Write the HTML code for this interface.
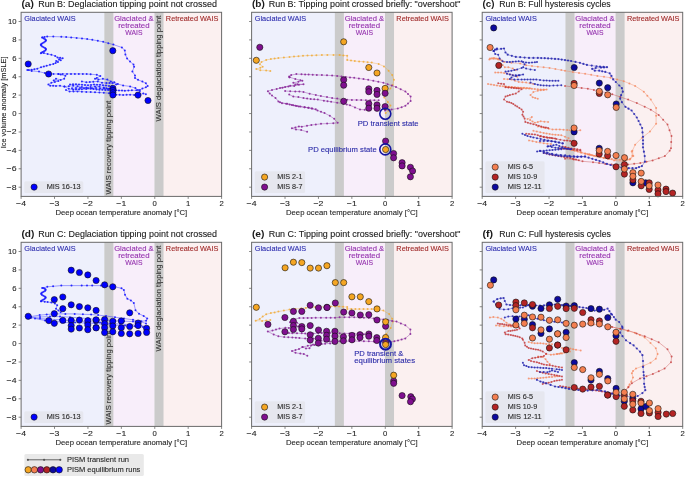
<!DOCTYPE html>
<html><head><meta charset="utf-8"><style>
html,body{margin:0;padding:0;background:#fff;width:685px;height:477px;overflow:hidden}
svg{display:block;will-change:transform}
text{font-family:"Liberation Sans", sans-serif}
</style></head><body>
<svg width="685" height="477" viewBox="0 0 685 477" font-family='"Liberation Sans", sans-serif'>
<rect width="685" height="477" fill="#ffffff"/>
<rect x="21.10" y="12.30" width="83.54" height="184.1" fill="#eef0fc"/>
<rect x="113.00" y="12.30" width="41.77" height="184.1" fill="#f8eefa"/>
<rect x="163.12" y="12.30" width="58.48" height="184.1" fill="#fbf0f0"/>
<rect x="104.34" y="12.30" width="9.05" height="184.1" fill="#cbcbcb"/>
<rect x="154.47" y="12.30" width="9.05" height="184.1" fill="#cbcbcb"/>
<text x="24.30" y="21.00" font-size="7.83" fill="#2c2cae" textLength="51.39" lengthAdjust="spacingAndGlyphs" stroke="#2c2cae" stroke-width="0.15" stroke-opacity="0.7" >Glaciated WAIS</text>
<text x="114.15" y="20.90" font-size="7.83" fill="#9430ae" textLength="39.46" lengthAdjust="spacingAndGlyphs" stroke="#9430ae" stroke-width="0.15" stroke-opacity="0.7" >Glaciated &amp;</text>
<text x="118.17" y="28.10" font-size="7.83" fill="#9430ae" textLength="31.43" lengthAdjust="spacingAndGlyphs" stroke="#9430ae" stroke-width="0.15" stroke-opacity="0.7" >retreated</text>
<text x="125.28" y="35.40" font-size="7.83" fill="#9430ae" textLength="17.20" lengthAdjust="spacingAndGlyphs" stroke="#9430ae" stroke-width="0.15" stroke-opacity="0.7" >WAIS</text>
<text x="165.87" y="21.00" font-size="7.83" fill="#a02828" textLength="52.53" lengthAdjust="spacingAndGlyphs" stroke="#a02828" stroke-width="0.15" stroke-opacity="0.7" >Retreated WAIS</text>
<text transform="translate(110.62,194.50) rotate(-90)" x="0.00" y="0" font-size="7.83" fill="#333333" textLength="93.92" lengthAdjust="spacingAndGlyphs" stroke="#333333" stroke-width="0.15" stroke-opacity="0.7" >WAIS recovery tipping point</text>
<text transform="translate(160.84,121.40) rotate(-90)" x="0.00" y="0" font-size="7.83" fill="#333333" textLength="105.77" lengthAdjust="spacingAndGlyphs" stroke="#333333" stroke-width="0.15" stroke-opacity="0.7" >WAIS deglaciation tipping point</text>
<path d="M42.4,37.6 L43.8,38.4 L45.1,39.2 L45.9,40.0 L45.9,40.8 L45.1,41.6 L43.8,42.4 L42.4,43.2 L41.3,44.0 L40.8,44.8 L41.2,45.6 L42.2,46.4 L43.6,47.2 L45.0,48.0 L45.8,48.8 L45.9,49.6 L45.3,50.4 L44.0,51.2 L42.5,52.0 L41.4,52.8" fill="none" stroke="#1a1aff" stroke-width="0.8" stroke-opacity="0.5" stroke-linejoin="round"/>
<g fill="#1a1aff" fill-opacity="0.9"><circle cx="42.4" cy="37.6" r="1.0"/><circle cx="43.8" cy="38.4" r="1.0"/><circle cx="45.1" cy="39.2" r="1.0"/><circle cx="45.9" cy="40.0" r="1.0"/><circle cx="45.9" cy="40.8" r="1.0"/><circle cx="45.1" cy="41.6" r="1.0"/><circle cx="43.8" cy="42.4" r="1.0"/><circle cx="42.4" cy="43.2" r="1.0"/><circle cx="41.3" cy="44.0" r="1.0"/><circle cx="40.8" cy="44.8" r="1.0"/><circle cx="41.2" cy="45.6" r="1.0"/><circle cx="42.2" cy="46.4" r="1.0"/><circle cx="43.6" cy="47.2" r="1.0"/><circle cx="45.0" cy="48.0" r="1.0"/><circle cx="45.8" cy="48.8" r="1.0"/><circle cx="45.9" cy="49.6" r="1.0"/><circle cx="45.3" cy="50.4" r="1.0"/><circle cx="44.0" cy="51.2" r="1.0"/><circle cx="42.5" cy="52.0" r="1.0"/><circle cx="41.4" cy="52.8" r="1.0"/></g>
<path d="M42.2,37.6 L44.5,36.9 L47.2,36.6 L53.3,36.6 L61.3,36.8 L71.2,37.4 L82.0,38.4 L92.3,39.8 L103.2,41.8 L113.4,44.6 L121.9,47.5 L124.8,50.4 L125.4,54.5 L127.1,58.6 L130.0,61.5 L133.5,64.5 L134.1,66.8 L132.4,71.5 L135.0,75.4 L135.0,78.1 L138.0,79.8 L142.4,81.6 L145.9,83.3 L147.7,85.9 L145.9,87.3 L142.4,88.6 L139.8,89.9" fill="none" stroke="#1a1aff" stroke-width="0.8" stroke-opacity="0.5" stroke-linejoin="round"/>
<g fill="#1a1aff" fill-opacity="0.9"><circle cx="42.2" cy="37.6" r="1.0"/><circle cx="44.5" cy="36.9" r="1.0"/><circle cx="47.2" cy="36.6" r="1.0"/><circle cx="53.3" cy="36.6" r="1.0"/><circle cx="61.3" cy="36.8" r="1.0"/><circle cx="66.2" cy="37.1" r="1.0"/><circle cx="71.2" cy="37.4" r="1.0"/><circle cx="76.6" cy="37.9" r="1.0"/><circle cx="82.0" cy="38.4" r="1.0"/><circle cx="87.2" cy="39.1" r="1.0"/><circle cx="92.3" cy="39.8" r="1.0"/><circle cx="97.8" cy="40.8" r="1.0"/><circle cx="103.2" cy="41.8" r="1.0"/><circle cx="108.3" cy="43.2" r="1.0"/><circle cx="113.4" cy="44.6" r="1.0"/><circle cx="121.9" cy="47.5" r="1.0"/><circle cx="124.8" cy="50.4" r="1.0"/><circle cx="125.4" cy="54.5" r="1.0"/><circle cx="127.1" cy="58.6" r="1.0"/><circle cx="130.0" cy="61.5" r="1.0"/><circle cx="133.5" cy="64.5" r="1.0"/><circle cx="134.1" cy="66.8" r="1.0"/><circle cx="132.4" cy="71.5" r="1.0"/><circle cx="135.0" cy="75.4" r="1.0"/><circle cx="135.0" cy="78.1" r="1.0"/><circle cx="138.0" cy="79.8" r="1.0"/><circle cx="142.4" cy="81.6" r="1.0"/><circle cx="145.9" cy="83.3" r="1.0"/><circle cx="147.7" cy="85.9" r="1.0"/><circle cx="145.9" cy="87.3" r="1.0"/><circle cx="142.4" cy="88.6" r="1.0"/><circle cx="139.8" cy="89.9" r="1.0"/></g>
<path d="M40.9,53.2 L43.9,53.1 L47.6,54.1 L51.4,54.7 L55.2,55.9 L57.5,57.4 L62.7,58.3 L59.0,59.2 L60.8,60.2 L56.1,61.1 L58.0,62.1 L53.3,64.0 L46.7,65.7 L41.0,67.3 L37.3,68.7 L34.4,69.2 L28.8,70.1" fill="none" stroke="#1a1aff" stroke-width="0.8" stroke-opacity="0.5" stroke-linejoin="round"/>
<g fill="#1a1aff" fill-opacity="0.9"><circle cx="40.9" cy="53.2" r="1.0"/><circle cx="43.9" cy="53.1" r="1.0"/><circle cx="47.6" cy="54.1" r="1.0"/><circle cx="51.4" cy="54.7" r="1.0"/><circle cx="55.2" cy="55.9" r="1.0"/><circle cx="57.5" cy="57.4" r="1.0"/><circle cx="60.1" cy="57.8" r="1.0"/><circle cx="62.7" cy="58.3" r="1.0"/><circle cx="59.0" cy="59.2" r="1.0"/><circle cx="60.8" cy="60.2" r="1.0"/><circle cx="56.1" cy="61.1" r="1.0"/><circle cx="58.0" cy="62.1" r="1.0"/><circle cx="55.6" cy="63.0" r="1.0"/><circle cx="53.3" cy="64.0" r="1.0"/><circle cx="50.0" cy="64.8" r="1.0"/><circle cx="46.7" cy="65.7" r="1.0"/><circle cx="43.9" cy="66.5" r="1.0"/><circle cx="41.0" cy="67.3" r="1.0"/><circle cx="37.3" cy="68.7" r="1.0"/><circle cx="34.4" cy="69.2" r="1.0"/><circle cx="31.6" cy="69.7" r="1.0"/><circle cx="28.8" cy="70.1" r="1.0"/></g>
<path d="M27.3,70.1 L31.7,70.9 L39.0,71.6 L44.8,73.1 L48.5,73.8 L58.4,74.0 L67.0,73.9 L74.9,73.9 L82.8,73.9 L90.6,74.2 L96.8,74.8 L100.3,76.1 L96.8,77.9 L95.0,78.8 L98.5,79.6 L102.9,78.8 L107.3,79.6 L110.8,81.4 L114.3,82.3 L117.8,84.0 L123.1,85.5 L130.1,86.4 L135.4,88.1 L138.0,89.9" fill="none" stroke="#1a1aff" stroke-width="0.8" stroke-opacity="0.5" stroke-linejoin="round"/>
<g fill="#1a1aff" fill-opacity="0.9"><circle cx="27.3" cy="70.1" r="1.0"/><circle cx="31.7" cy="70.9" r="1.0"/><circle cx="39.0" cy="71.6" r="1.0"/><circle cx="44.8" cy="73.1" r="1.0"/><circle cx="48.5" cy="73.8" r="1.0"/><circle cx="53.5" cy="73.9" r="1.0"/><circle cx="58.4" cy="74.0" r="1.0"/><circle cx="62.7" cy="74.0" r="1.0"/><circle cx="67.0" cy="73.9" r="1.0"/><circle cx="71.0" cy="73.9" r="1.0"/><circle cx="74.9" cy="73.9" r="1.0"/><circle cx="78.8" cy="73.9" r="1.0"/><circle cx="82.8" cy="73.9" r="1.0"/><circle cx="86.7" cy="74.1" r="1.0"/><circle cx="90.6" cy="74.2" r="1.0"/><circle cx="96.8" cy="74.8" r="1.0"/><circle cx="100.3" cy="76.1" r="1.0"/><circle cx="96.8" cy="77.9" r="1.0"/><circle cx="95.0" cy="78.8" r="1.0"/><circle cx="98.5" cy="79.6" r="1.0"/><circle cx="102.9" cy="78.8" r="1.0"/><circle cx="107.3" cy="79.6" r="1.0"/><circle cx="110.8" cy="81.4" r="1.0"/><circle cx="114.3" cy="82.3" r="1.0"/><circle cx="117.8" cy="84.0" r="1.0"/><circle cx="123.1" cy="85.5" r="1.0"/><circle cx="130.1" cy="86.4" r="1.0"/><circle cx="135.4" cy="88.1" r="1.0"/><circle cx="138.0" cy="89.9" r="1.0"/></g>
<path d="M58.4,74.0 L60.7,74.6 L65.4,75.8 L64.2,78.7 L60.7,79.9 L56.0,78.7 L53.7,80.4 L58.4,81.0 L51.4,82.8 L48.4,84.5 L50.2,85.7 L56.0,85.9 L60.0,85.8 L64.4,86.6 L68.8,86.2 L73.1,85.8 L77.5,86.2 L81.9,87.1 L86.3,87.5 L90.6,87.1 L95.0,86.6 L99.4,86.6 L103.8,87.5 L109.0,88.8 L116.1,90.3 L124.9,90.8 L131.9,90.3 L136.3,90.3 L139.8,91.2" fill="none" stroke="#1a1aff" stroke-width="0.8" stroke-opacity="0.5" stroke-linejoin="round"/>
<g fill="#1a1aff" fill-opacity="0.9"><circle cx="58.4" cy="74.0" r="1.0"/><circle cx="60.7" cy="74.6" r="1.0"/><circle cx="65.4" cy="75.8" r="1.0"/><circle cx="64.2" cy="78.7" r="1.0"/><circle cx="60.7" cy="79.9" r="1.0"/><circle cx="56.0" cy="78.7" r="1.0"/><circle cx="53.7" cy="80.4" r="1.0"/><circle cx="58.4" cy="81.0" r="1.0"/><circle cx="54.9" cy="81.9" r="1.0"/><circle cx="51.4" cy="82.8" r="1.0"/><circle cx="48.4" cy="84.5" r="1.0"/><circle cx="50.2" cy="85.7" r="1.0"/><circle cx="53.1" cy="85.8" r="1.0"/><circle cx="56.0" cy="85.9" r="1.0"/><circle cx="60.0" cy="85.8" r="1.0"/><circle cx="64.4" cy="86.6" r="1.0"/><circle cx="68.8" cy="86.2" r="1.0"/><circle cx="73.1" cy="85.8" r="1.0"/><circle cx="77.5" cy="86.2" r="1.0"/><circle cx="81.9" cy="87.1" r="1.0"/><circle cx="86.3" cy="87.5" r="1.0"/><circle cx="90.6" cy="87.1" r="1.0"/><circle cx="95.0" cy="86.6" r="1.0"/><circle cx="99.4" cy="86.6" r="1.0"/><circle cx="103.8" cy="87.5" r="1.0"/><circle cx="106.4" cy="88.2" r="1.0"/><circle cx="109.0" cy="88.8" r="1.0"/><circle cx="112.5" cy="89.5" r="1.0"/><circle cx="116.1" cy="90.3" r="1.0"/><circle cx="119.0" cy="90.5" r="1.0"/><circle cx="122.0" cy="90.6" r="1.0"/><circle cx="124.9" cy="90.8" r="1.0"/><circle cx="128.4" cy="90.5" r="1.0"/><circle cx="131.9" cy="90.3" r="1.0"/><circle cx="136.3" cy="90.3" r="1.0"/><circle cx="139.8" cy="91.2" r="1.0"/></g>
<path d="M64.4,86.6 L68.8,88.8 L73.1,89.7 L81.9,89.3 L90.6,88.8 L99.4,89.7 L108.2,90.1 L113.0,90.5" fill="none" stroke="#1a1aff" stroke-width="0.8" stroke-opacity="0.5" stroke-linejoin="round"/>
<g fill="#1a1aff" fill-opacity="0.9"><circle cx="64.4" cy="86.6" r="1.0"/><circle cx="68.8" cy="88.8" r="1.0"/><circle cx="73.1" cy="89.7" r="1.0"/><circle cx="76.0" cy="89.6" r="1.0"/><circle cx="79.0" cy="89.4" r="1.0"/><circle cx="81.9" cy="89.3" r="1.0"/><circle cx="86.2" cy="89.0" r="1.0"/><circle cx="90.6" cy="88.8" r="1.0"/><circle cx="93.5" cy="89.1" r="1.0"/><circle cx="96.5" cy="89.4" r="1.0"/><circle cx="99.4" cy="89.7" r="1.0"/><circle cx="102.3" cy="89.8" r="1.0"/><circle cx="105.3" cy="90.0" r="1.0"/><circle cx="108.2" cy="90.1" r="1.0"/><circle cx="113.0" cy="90.5" r="1.0"/></g>
<path d="M66.0,90.0 L69.6,91.5 L77.5,91.5 L86.3,91.9 L95.0,92.3 L103.8,92.8 L109.0,93.2 L116.1,94.7 L123.1,95.0 L130.1,94.7 L138.0,95.1 L143.3,93.4 L145.9,94.3" fill="none" stroke="#1a1aff" stroke-width="0.8" stroke-opacity="0.5" stroke-linejoin="round"/>
<g fill="#1a1aff" fill-opacity="0.9"><circle cx="66.0" cy="90.0" r="1.0"/><circle cx="69.6" cy="91.5" r="1.0"/><circle cx="73.5" cy="91.5" r="1.0"/><circle cx="77.5" cy="91.5" r="1.0"/><circle cx="81.9" cy="91.7" r="1.0"/><circle cx="86.3" cy="91.9" r="1.0"/><circle cx="90.7" cy="92.1" r="1.0"/><circle cx="95.0" cy="92.3" r="1.0"/><circle cx="99.4" cy="92.5" r="1.0"/><circle cx="103.8" cy="92.8" r="1.0"/><circle cx="109.0" cy="93.2" r="1.0"/><circle cx="112.5" cy="94.0" r="1.0"/><circle cx="116.1" cy="94.7" r="1.0"/><circle cx="119.6" cy="94.8" r="1.0"/><circle cx="123.1" cy="95.0" r="1.0"/><circle cx="126.6" cy="94.8" r="1.0"/><circle cx="130.1" cy="94.7" r="1.0"/><circle cx="134.1" cy="94.9" r="1.0"/><circle cx="138.0" cy="95.1" r="1.0"/><circle cx="143.3" cy="93.4" r="1.0"/><circle cx="145.9" cy="94.3" r="1.0"/></g>
<path d="M81.9,81.4 L86.3,82.3 L93.3,81.8 L97.7,81.4 L102.0,82.7 L106.4,83.1 L112.5,83.1 L116.1,84.6" fill="none" stroke="#1a1aff" stroke-width="0.8" stroke-opacity="0.5" stroke-linejoin="round"/>
<g fill="#1a1aff" fill-opacity="0.9"><circle cx="81.9" cy="81.4" r="1.0"/><circle cx="86.3" cy="82.3" r="1.0"/><circle cx="89.8" cy="82.0" r="1.0"/><circle cx="93.3" cy="81.8" r="1.0"/><circle cx="97.7" cy="81.4" r="1.0"/><circle cx="102.0" cy="82.7" r="1.0"/><circle cx="106.4" cy="83.1" r="1.0"/><circle cx="109.5" cy="83.1" r="1.0"/><circle cx="112.5" cy="83.1" r="1.0"/><circle cx="116.1" cy="84.6" r="1.0"/></g>
<path d="M70.0,84.5 L76.0,84.2 L82.0,84.8 L88.0,85.2 L94.0,84.6 L100.0,84.8 L106.0,85.6 L112.0,86.3" fill="none" stroke="#1a1aff" stroke-width="0.8" stroke-opacity="0.5" stroke-linejoin="round"/>
<g fill="#1a1aff" fill-opacity="0.9"><circle cx="70.0" cy="84.5" r="1.0"/><circle cx="73.0" cy="84.3" r="1.0"/><circle cx="76.0" cy="84.2" r="1.0"/><circle cx="79.0" cy="84.5" r="1.0"/><circle cx="82.0" cy="84.8" r="1.0"/><circle cx="85.0" cy="85.0" r="1.0"/><circle cx="88.0" cy="85.2" r="1.0"/><circle cx="91.0" cy="84.9" r="1.0"/><circle cx="94.0" cy="84.6" r="1.0"/><circle cx="97.0" cy="84.7" r="1.0"/><circle cx="100.0" cy="84.8" r="1.0"/><circle cx="103.0" cy="85.2" r="1.0"/><circle cx="106.0" cy="85.6" r="1.0"/><circle cx="109.0" cy="85.9" r="1.0"/><circle cx="112.0" cy="86.3" r="1.0"/></g>
<path d="M72.0,88.2 L80.0,88.0 L88.0,88.3 L96.0,88.0 L104.0,88.6 L112.0,89.2" fill="none" stroke="#1a1aff" stroke-width="0.8" stroke-opacity="0.5" stroke-linejoin="round"/>
<g fill="#1a1aff" fill-opacity="0.9"><circle cx="72.0" cy="88.2" r="1.0"/><circle cx="76.0" cy="88.1" r="1.0"/><circle cx="80.0" cy="88.0" r="1.0"/><circle cx="84.0" cy="88.2" r="1.0"/><circle cx="88.0" cy="88.3" r="1.0"/><circle cx="92.0" cy="88.2" r="1.0"/><circle cx="96.0" cy="88.0" r="1.0"/><circle cx="100.0" cy="88.3" r="1.0"/><circle cx="104.0" cy="88.6" r="1.0"/><circle cx="108.0" cy="88.9" r="1.0"/><circle cx="112.0" cy="89.2" r="1.0"/></g>
<g fill="#0000ff" stroke="#111" stroke-width="0.6"><circle cx="28.2" cy="64.0" r="3.1"/><circle cx="48.6" cy="74.0" r="3.1"/><circle cx="112.8" cy="50.7" r="3.1"/><circle cx="112.9" cy="88.3" r="3.1"/><circle cx="112.9" cy="90.4" r="3.1"/><circle cx="112.9" cy="92.7" r="3.1"/><circle cx="112.9" cy="95.0" r="3.1"/><circle cx="138.0" cy="95.1" r="3.1"/><circle cx="148.0" cy="100.5" r="3.1"/></g>
<rect x="21.10" y="12.30" width="200.5" height="184.1" fill="none" stroke="#6a6a6a" stroke-width="1"/>
<line x1="21.10" y1="196.40" x2="21.10" y2="198.90" stroke="#6a6a6a" stroke-width="0.8"/>
<text x="16.12" y="205.90" font-size="7.83" fill="#262626" textLength="9.95" lengthAdjust="spacingAndGlyphs" stroke="#262626" stroke-width="0.15" stroke-opacity="0.7" >−4</text>
<line x1="54.52" y1="196.40" x2="54.52" y2="198.90" stroke="#6a6a6a" stroke-width="0.8"/>
<text x="49.54" y="205.90" font-size="7.83" fill="#262626" textLength="9.95" lengthAdjust="spacingAndGlyphs" stroke="#262626" stroke-width="0.15" stroke-opacity="0.7" >−3</text>
<line x1="87.93" y1="196.40" x2="87.93" y2="198.90" stroke="#6a6a6a" stroke-width="0.8"/>
<text x="82.96" y="205.90" font-size="7.83" fill="#262626" textLength="9.95" lengthAdjust="spacingAndGlyphs" stroke="#262626" stroke-width="0.15" stroke-opacity="0.7" >−2</text>
<line x1="121.35" y1="196.40" x2="121.35" y2="198.90" stroke="#6a6a6a" stroke-width="0.8"/>
<text x="116.37" y="205.90" font-size="7.83" fill="#262626" textLength="9.95" lengthAdjust="spacingAndGlyphs" stroke="#262626" stroke-width="0.15" stroke-opacity="0.7" >−1</text>
<line x1="154.77" y1="196.40" x2="154.77" y2="198.90" stroke="#6a6a6a" stroke-width="0.8"/>
<text x="152.62" y="205.90" font-size="7.83" fill="#262626" textLength="4.29" lengthAdjust="spacingAndGlyphs" stroke="#262626" stroke-width="0.15" stroke-opacity="0.7" >0</text>
<line x1="188.18" y1="196.40" x2="188.18" y2="198.90" stroke="#6a6a6a" stroke-width="0.8"/>
<text x="186.04" y="205.90" font-size="7.83" fill="#262626" textLength="4.29" lengthAdjust="spacingAndGlyphs" stroke="#262626" stroke-width="0.15" stroke-opacity="0.7" >1</text>
<line x1="221.60" y1="196.40" x2="221.60" y2="198.90" stroke="#6a6a6a" stroke-width="0.8"/>
<text x="219.45" y="205.90" font-size="7.83" fill="#262626" textLength="4.29" lengthAdjust="spacingAndGlyphs" stroke="#262626" stroke-width="0.15" stroke-opacity="0.7" >2</text>
<line x1="18.60" y1="187.19" x2="21.10" y2="187.19" stroke="#6a6a6a" stroke-width="0.8"/>
<text x="6.55" y="189.59" font-size="7.83" fill="#262626" textLength="9.95" lengthAdjust="spacingAndGlyphs" stroke="#262626" stroke-width="0.15" stroke-opacity="0.7" >−8</text>
<line x1="18.60" y1="168.78" x2="21.10" y2="168.78" stroke="#6a6a6a" stroke-width="0.8"/>
<text x="6.55" y="171.19" font-size="7.83" fill="#262626" textLength="9.95" lengthAdjust="spacingAndGlyphs" stroke="#262626" stroke-width="0.15" stroke-opacity="0.7" >−6</text>
<line x1="18.60" y1="150.38" x2="21.10" y2="150.38" stroke="#6a6a6a" stroke-width="0.8"/>
<text x="6.55" y="152.78" font-size="7.83" fill="#262626" textLength="9.95" lengthAdjust="spacingAndGlyphs" stroke="#262626" stroke-width="0.15" stroke-opacity="0.7" >−4</text>
<line x1="18.60" y1="131.97" x2="21.10" y2="131.97" stroke="#6a6a6a" stroke-width="0.8"/>
<text x="6.55" y="134.37" font-size="7.83" fill="#262626" textLength="9.95" lengthAdjust="spacingAndGlyphs" stroke="#262626" stroke-width="0.15" stroke-opacity="0.7" >−2</text>
<line x1="18.60" y1="113.56" x2="21.10" y2="113.56" stroke="#6a6a6a" stroke-width="0.8"/>
<text x="12.21" y="115.96" font-size="7.83" fill="#262626" textLength="4.29" lengthAdjust="spacingAndGlyphs" stroke="#262626" stroke-width="0.15" stroke-opacity="0.7" >0</text>
<line x1="18.60" y1="95.14" x2="21.10" y2="95.14" stroke="#6a6a6a" stroke-width="0.8"/>
<text x="12.21" y="97.55" font-size="7.83" fill="#262626" textLength="4.29" lengthAdjust="spacingAndGlyphs" stroke="#262626" stroke-width="0.15" stroke-opacity="0.7" >2</text>
<line x1="18.60" y1="76.73" x2="21.10" y2="76.73" stroke="#6a6a6a" stroke-width="0.8"/>
<text x="12.21" y="79.13" font-size="7.83" fill="#262626" textLength="4.29" lengthAdjust="spacingAndGlyphs" stroke="#262626" stroke-width="0.15" stroke-opacity="0.7" >4</text>
<line x1="18.60" y1="58.33" x2="21.10" y2="58.33" stroke="#6a6a6a" stroke-width="0.8"/>
<text x="12.21" y="60.73" font-size="7.83" fill="#262626" textLength="4.29" lengthAdjust="spacingAndGlyphs" stroke="#262626" stroke-width="0.15" stroke-opacity="0.7" >6</text>
<line x1="18.60" y1="39.91" x2="21.10" y2="39.91" stroke="#6a6a6a" stroke-width="0.8"/>
<text x="12.21" y="42.31" font-size="7.83" fill="#262626" textLength="4.29" lengthAdjust="spacingAndGlyphs" stroke="#262626" stroke-width="0.15" stroke-opacity="0.7" >8</text>
<line x1="18.60" y1="21.51" x2="21.10" y2="21.51" stroke="#6a6a6a" stroke-width="0.8"/>
<text x="7.91" y="23.91" font-size="7.83" fill="#262626" textLength="8.59" lengthAdjust="spacingAndGlyphs" stroke="#262626" stroke-width="0.15" stroke-opacity="0.7" >10</text>
<text x="55.51" y="214.90" font-size="7.83" fill="#262626" textLength="131.69" lengthAdjust="spacingAndGlyphs" stroke="#262626" stroke-width="0.15" stroke-opacity="0.7" >Deep ocean temperature anomaly [°C]</text>
<text x="21.40" y="6.60" font-size="9.16" fill="#1a1a1a" textLength="12.55" lengthAdjust="spacingAndGlyphs" font-weight="bold" >(a)</text>
<text x="38.20" y="6.60" font-size="9.16" fill="#1a1a1a" textLength="178.78" lengthAdjust="spacingAndGlyphs" stroke="#1a1a1a" stroke-width="0.15" stroke-opacity="0.7" >Run B: Deglaciation tipping point not crossed</text>
<rect x="24.30" y="181.20" width="59" height="11.8" rx="1.5" fill="#e6e7ef"/>
<circle cx="34.10" cy="187.10" r="3.1" fill="#0000ff" stroke="#111" stroke-width="0.6"/>
<text x="46.70" y="189.30" font-size="7.83" fill="#262626" textLength="33.86" lengthAdjust="spacingAndGlyphs" stroke="#262626" stroke-width="0.15" stroke-opacity="0.7" >MIS 16-13</text>
<rect x="251.60" y="12.30" width="83.54" height="184.1" fill="#eef0fc"/>
<rect x="343.50" y="12.30" width="41.77" height="184.1" fill="#f8eefa"/>
<rect x="393.62" y="12.30" width="58.48" height="184.1" fill="#fbf0f0"/>
<rect x="334.84" y="12.30" width="9.05" height="184.1" fill="#cbcbcb"/>
<rect x="384.97" y="12.30" width="9.05" height="184.1" fill="#cbcbcb"/>
<text x="254.80" y="21.00" font-size="7.83" fill="#2c2cae" textLength="51.39" lengthAdjust="spacingAndGlyphs" stroke="#2c2cae" stroke-width="0.15" stroke-opacity="0.7" >Glaciated WAIS</text>
<text x="344.65" y="20.90" font-size="7.83" fill="#9430ae" textLength="39.46" lengthAdjust="spacingAndGlyphs" stroke="#9430ae" stroke-width="0.15" stroke-opacity="0.7" >Glaciated &amp;</text>
<text x="348.67" y="28.10" font-size="7.83" fill="#9430ae" textLength="31.43" lengthAdjust="spacingAndGlyphs" stroke="#9430ae" stroke-width="0.15" stroke-opacity="0.7" >retreated</text>
<text x="355.78" y="35.40" font-size="7.83" fill="#9430ae" textLength="17.20" lengthAdjust="spacingAndGlyphs" stroke="#9430ae" stroke-width="0.15" stroke-opacity="0.7" >WAIS</text>
<text x="396.37" y="21.00" font-size="7.83" fill="#a02828" textLength="52.53" lengthAdjust="spacingAndGlyphs" stroke="#a02828" stroke-width="0.15" stroke-opacity="0.7" >Retreated WAIS</text>
<path d="M270.3,71.1 L266.2,70.4 L260.3,70.2 L256.3,69.0 L260.3,67.8 L262.7,66.7 L259.8,64.3 L261.5,62.0 L266.2,59.9 L270.9,59.1 L278.4,58.1 L289.5,57.0 L303.0,55.8 L316.4,55.2 L327.4,54.9 L339.6,55.0 L347.2,55.7 L347.2,59.9 L354.8,61.1 L363.5,61.7 L371.7,62.6 L378.7,64.0 L384.0,66.4 L388.6,70.8 L392.2,75.1 L393.9,79.8 L392.7,85.0 L390.4,88.5 L386.5,92.5 L384.3,97.4 L387.8,102.0 L390.4,105.4 L388.6,110.7 L385.7,113.0" fill="none" stroke="#f0a830" stroke-width="0.8" stroke-opacity="0.45" stroke-linejoin="round"/>
<g fill="#f0a830" fill-opacity="0.8"><circle cx="270.3" cy="71.1" r="1.0"/><circle cx="266.2" cy="70.4" r="1.0"/><circle cx="260.3" cy="70.2" r="1.0"/><circle cx="256.3" cy="69.0" r="1.0"/><circle cx="260.3" cy="67.8" r="1.0"/><circle cx="262.7" cy="66.7" r="1.0"/><circle cx="259.8" cy="64.3" r="1.0"/><circle cx="261.5" cy="62.0" r="1.0"/><circle cx="266.2" cy="59.9" r="1.0"/><circle cx="270.9" cy="59.1" r="1.0"/><circle cx="274.6" cy="58.6" r="1.0"/><circle cx="278.4" cy="58.1" r="1.0"/><circle cx="283.9" cy="57.5" r="1.0"/><circle cx="289.5" cy="57.0" r="1.0"/><circle cx="294.0" cy="56.6" r="1.0"/><circle cx="298.5" cy="56.2" r="1.0"/><circle cx="303.0" cy="55.8" r="1.0"/><circle cx="307.5" cy="55.6" r="1.0"/><circle cx="311.9" cy="55.4" r="1.0"/><circle cx="316.4" cy="55.2" r="1.0"/><circle cx="321.9" cy="55.0" r="1.0"/><circle cx="327.4" cy="54.9" r="1.0"/><circle cx="333.5" cy="55.0" r="1.0"/><circle cx="339.6" cy="55.0" r="1.0"/><circle cx="343.4" cy="55.4" r="1.0"/><circle cx="347.2" cy="55.7" r="1.0"/><circle cx="347.2" cy="59.9" r="1.0"/><circle cx="351.0" cy="60.5" r="1.0"/><circle cx="354.8" cy="61.1" r="1.0"/><circle cx="359.1" cy="61.4" r="1.0"/><circle cx="363.5" cy="61.7" r="1.0"/><circle cx="367.6" cy="62.2" r="1.0"/><circle cx="371.7" cy="62.6" r="1.0"/><circle cx="378.7" cy="64.0" r="1.0"/><circle cx="384.0" cy="66.4" r="1.0"/><circle cx="388.6" cy="70.8" r="1.0"/><circle cx="392.2" cy="75.1" r="1.0"/><circle cx="393.9" cy="79.8" r="1.0"/><circle cx="392.7" cy="85.0" r="1.0"/><circle cx="390.4" cy="88.5" r="1.0"/><circle cx="386.5" cy="92.5" r="1.0"/><circle cx="384.3" cy="97.4" r="1.0"/><circle cx="387.8" cy="102.0" r="1.0"/><circle cx="390.4" cy="105.4" r="1.0"/><circle cx="388.6" cy="110.7" r="1.0"/><circle cx="385.7" cy="113.0" r="1.0"/></g>
<path d="M289.5,77.2 L289.2,76.5 L291.2,75.1 L296.4,74.1 L301.5,74.3 L308.6,74.6 L316.8,74.9 L327.0,75.3 L337.2,75.9 L350.0,77.4 L354.2,77.8 L368.2,79.8 L383.4,82.7 L396.0,87.1 L405.4,91.5 L410.6,96.4 L410.6,101.1 L405.4,105.8 L397.8,108.5 L391.6,109.5 L385.0,110.5" fill="none" stroke="#8a2a9a" stroke-width="0.8" stroke-opacity="0.5" stroke-linejoin="round"/>
<g fill="#8a2a9a" fill-opacity="0.9"><circle cx="289.5" cy="77.2" r="1.0"/><circle cx="289.2" cy="76.5" r="1.0"/><circle cx="291.2" cy="75.1" r="1.0"/><circle cx="296.4" cy="74.1" r="1.0"/><circle cx="301.5" cy="74.3" r="1.0"/><circle cx="305.1" cy="74.4" r="1.0"/><circle cx="308.6" cy="74.6" r="1.0"/><circle cx="312.7" cy="74.8" r="1.0"/><circle cx="316.8" cy="74.9" r="1.0"/><circle cx="321.9" cy="75.1" r="1.0"/><circle cx="327.0" cy="75.3" r="1.0"/><circle cx="332.1" cy="75.6" r="1.0"/><circle cx="337.2" cy="75.9" r="1.0"/><circle cx="341.5" cy="76.4" r="1.0"/><circle cx="345.7" cy="76.9" r="1.0"/><circle cx="350.0" cy="77.4" r="1.0"/><circle cx="354.2" cy="77.8" r="1.0"/><circle cx="358.9" cy="78.5" r="1.0"/><circle cx="363.5" cy="79.1" r="1.0"/><circle cx="368.2" cy="79.8" r="1.0"/><circle cx="373.3" cy="80.8" r="1.0"/><circle cx="378.3" cy="81.7" r="1.0"/><circle cx="383.4" cy="82.7" r="1.0"/><circle cx="387.6" cy="84.2" r="1.0"/><circle cx="391.8" cy="85.6" r="1.0"/><circle cx="396.0" cy="87.1" r="1.0"/><circle cx="400.7" cy="89.3" r="1.0"/><circle cx="405.4" cy="91.5" r="1.0"/><circle cx="408.0" cy="94.0" r="1.0"/><circle cx="410.6" cy="96.4" r="1.0"/><circle cx="410.6" cy="101.1" r="1.0"/><circle cx="408.0" cy="103.4" r="1.0"/><circle cx="405.4" cy="105.8" r="1.0"/><circle cx="401.6" cy="107.2" r="1.0"/><circle cx="397.8" cy="108.5" r="1.0"/><circle cx="391.6" cy="109.5" r="1.0"/><circle cx="385.0" cy="110.5" r="1.0"/></g>
<path d="M289.5,77.2 L295.3,79.0 L300.4,80.2 L302.4,80.7 L298.4,81.8 L293.3,82.8 L297.4,84.3 L303.5,84.3 L298.9,84.8 L294.2,85.9 L288.4,86.5 L282.5,87.7 L276.7,88.9 L272.0,90.0 L267.9,91.2 L269.7,93.5 L272.0,95.6 L275.5,97.9 L278.4,101.4 L282.0,103.2 L287.2,103.8 L291.9,104.9 L298.9,106.4 L304.7,107.3 L311.7,108.4 L317.5,110.5 L324.5,113.1 L329.8,115.8 L334.2,118.8 L337.7,122.8 L333.3,123.2 L327.1,123.6 L321.0,123.8 L315.8,124.5 L311.4,125.0 L307.0,125.8 L301.8,126.7 L298.9,126.5 L291.9,128.3 L296.0,129.5 L301.2,130.0 L307.1,131.8" fill="none" stroke="#8a2a9a" stroke-width="0.8" stroke-opacity="0.5" stroke-linejoin="round"/>
<g fill="#8a2a9a" fill-opacity="0.9"><circle cx="289.5" cy="77.2" r="1.0"/><circle cx="295.3" cy="79.0" r="1.0"/><circle cx="300.4" cy="80.2" r="1.0"/><circle cx="302.4" cy="80.7" r="1.0"/><circle cx="298.4" cy="81.8" r="1.0"/><circle cx="293.3" cy="82.8" r="1.0"/><circle cx="297.4" cy="84.3" r="1.0"/><circle cx="303.5" cy="84.3" r="1.0"/><circle cx="298.9" cy="84.8" r="1.0"/><circle cx="294.2" cy="85.9" r="1.0"/><circle cx="288.4" cy="86.5" r="1.0"/><circle cx="282.5" cy="87.7" r="1.0"/><circle cx="276.7" cy="88.9" r="1.0"/><circle cx="272.0" cy="90.0" r="1.0"/><circle cx="267.9" cy="91.2" r="1.0"/><circle cx="269.7" cy="93.5" r="1.0"/><circle cx="272.0" cy="95.6" r="1.0"/><circle cx="275.5" cy="97.9" r="1.0"/><circle cx="278.4" cy="101.4" r="1.0"/><circle cx="282.0" cy="103.2" r="1.0"/><circle cx="287.2" cy="103.8" r="1.0"/><circle cx="291.9" cy="104.9" r="1.0"/><circle cx="295.4" cy="105.7" r="1.0"/><circle cx="298.9" cy="106.4" r="1.0"/><circle cx="304.7" cy="107.3" r="1.0"/><circle cx="308.2" cy="107.8" r="1.0"/><circle cx="311.7" cy="108.4" r="1.0"/><circle cx="317.5" cy="110.5" r="1.0"/><circle cx="321.0" cy="111.8" r="1.0"/><circle cx="324.5" cy="113.1" r="1.0"/><circle cx="329.8" cy="115.8" r="1.0"/><circle cx="334.2" cy="118.8" r="1.0"/><circle cx="337.7" cy="122.8" r="1.0"/><circle cx="333.3" cy="123.2" r="1.0"/><circle cx="327.1" cy="123.6" r="1.0"/><circle cx="321.0" cy="123.8" r="1.0"/><circle cx="315.8" cy="124.5" r="1.0"/><circle cx="311.4" cy="125.0" r="1.0"/><circle cx="307.0" cy="125.8" r="1.0"/><circle cx="301.8" cy="126.7" r="1.0"/><circle cx="298.9" cy="126.5" r="1.0"/><circle cx="295.4" cy="127.4" r="1.0"/><circle cx="291.9" cy="128.3" r="1.0"/><circle cx="296.0" cy="129.5" r="1.0"/><circle cx="301.2" cy="130.0" r="1.0"/><circle cx="307.1" cy="131.8" r="1.0"/></g>
<path d="M285.1,91.0 L290.2,91.3 L295.3,91.5 L299.4,91.5 L303.5,92.0 L309.6,93.7 L315.8,95.0 L320.9,96.1 L327.0,97.1 L332.1,98.1 L337.2,98.6 L342.3,99.6 L351.9,99.9 L365.9,100.2 L378.7,100.2" fill="none" stroke="#8a2a9a" stroke-width="0.8" stroke-opacity="0.5" stroke-linejoin="round"/>
<g fill="#8a2a9a" fill-opacity="0.9"><circle cx="285.1" cy="91.0" r="1.0"/><circle cx="290.2" cy="91.3" r="1.0"/><circle cx="295.3" cy="91.5" r="1.0"/><circle cx="299.4" cy="91.5" r="1.0"/><circle cx="303.5" cy="92.0" r="1.0"/><circle cx="309.6" cy="93.7" r="1.0"/><circle cx="315.8" cy="95.0" r="1.0"/><circle cx="320.9" cy="96.1" r="1.0"/><circle cx="327.0" cy="97.1" r="1.0"/><circle cx="332.1" cy="98.1" r="1.0"/><circle cx="337.2" cy="98.6" r="1.0"/><circle cx="342.3" cy="99.6" r="1.0"/><circle cx="347.1" cy="99.8" r="1.0"/><circle cx="351.9" cy="99.9" r="1.0"/><circle cx="356.6" cy="100.0" r="1.0"/><circle cx="361.2" cy="100.1" r="1.0"/><circle cx="365.9" cy="100.2" r="1.0"/><circle cx="370.2" cy="100.2" r="1.0"/><circle cx="374.4" cy="100.2" r="1.0"/><circle cx="378.7" cy="100.2" r="1.0"/></g>
<path d="M289.2,94.5 L293.3,96.6 L298.4,97.1 L303.5,98.1 L310.7,99.1 L317.8,99.6 L323.9,100.7 L331.1,101.7 L337.2,102.7 L343.4,103.7 L350.0,105.3 L360.0,109.5 L369.4,110.1" fill="none" stroke="#8a2a9a" stroke-width="0.8" stroke-opacity="0.5" stroke-linejoin="round"/>
<g fill="#8a2a9a" fill-opacity="0.9"><circle cx="289.2" cy="94.5" r="1.0"/><circle cx="293.3" cy="96.6" r="1.0"/><circle cx="298.4" cy="97.1" r="1.0"/><circle cx="303.5" cy="98.1" r="1.0"/><circle cx="307.1" cy="98.6" r="1.0"/><circle cx="310.7" cy="99.1" r="1.0"/><circle cx="314.2" cy="99.3" r="1.0"/><circle cx="317.8" cy="99.6" r="1.0"/><circle cx="323.9" cy="100.7" r="1.0"/><circle cx="327.5" cy="101.2" r="1.0"/><circle cx="331.1" cy="101.7" r="1.0"/><circle cx="337.2" cy="102.7" r="1.0"/><circle cx="343.4" cy="103.7" r="1.0"/><circle cx="346.7" cy="104.5" r="1.0"/><circle cx="350.0" cy="105.3" r="1.0"/><circle cx="355.0" cy="107.4" r="1.0"/><circle cx="360.0" cy="109.5" r="1.0"/><circle cx="364.7" cy="109.8" r="1.0"/><circle cx="369.4" cy="110.1" r="1.0"/></g>
<path d="M280.0,102.2 L286.1,103.7 L293.3,105.3 L300.4,106.6 L308.6,107.8 L315.8,109.3" fill="none" stroke="#8a2a9a" stroke-width="0.8" stroke-opacity="0.5" stroke-linejoin="round"/>
<g fill="#8a2a9a" fill-opacity="0.9"><circle cx="280.0" cy="102.2" r="1.0"/><circle cx="286.1" cy="103.7" r="1.0"/><circle cx="289.7" cy="104.5" r="1.0"/><circle cx="293.3" cy="105.3" r="1.0"/><circle cx="296.9" cy="105.9" r="1.0"/><circle cx="300.4" cy="106.6" r="1.0"/><circle cx="304.5" cy="107.2" r="1.0"/><circle cx="308.6" cy="107.8" r="1.0"/><circle cx="312.2" cy="108.5" r="1.0"/><circle cx="315.8" cy="109.3" r="1.0"/></g>
<path d="M280.0,87.9 L285.1,86.9 L290.2,85.8 L295.3,84.8" fill="none" stroke="#8a2a9a" stroke-width="0.8" stroke-opacity="0.5" stroke-linejoin="round"/>
<g fill="#8a2a9a" fill-opacity="0.9"><circle cx="280.0" cy="87.9" r="1.0"/><circle cx="285.1" cy="86.9" r="1.0"/><circle cx="290.2" cy="85.8" r="1.0"/><circle cx="295.3" cy="84.8" r="1.0"/></g>
<g fill="#f5a623" stroke="#111" stroke-width="0.6"><circle cx="256.3" cy="60.3" r="3.1"/><circle cx="343.7" cy="41.8" r="3.1"/><circle cx="368.8" cy="67.5" r="3.1"/><circle cx="377.0" cy="73.0" r="3.1"/><circle cx="385.1" cy="88.4" r="3.1"/></g>
<g fill="#7f0f8f" stroke="#111" stroke-width="0.6"><circle cx="259.8" cy="47.3" r="3.1"/><circle cx="343.7" cy="79.8" r="3.1"/><circle cx="343.7" cy="85.2" r="3.1"/><circle cx="368.8" cy="88.8" r="3.1"/><circle cx="368.8" cy="91.7" r="3.1"/><circle cx="377.0" cy="90.4" r="3.1"/><circle cx="377.0" cy="94.4" r="3.1"/><circle cx="385.1" cy="93.3" r="3.1"/><circle cx="343.7" cy="101.3" r="3.1"/><circle cx="368.8" cy="103.7" r="3.1"/><circle cx="368.8" cy="108.2" r="3.1"/><circle cx="377.0" cy="104.9" r="3.1"/><circle cx="377.0" cy="108.3" r="3.1"/><circle cx="385.1" cy="106.6" r="3.1"/><circle cx="385.6" cy="141.1" r="3.1"/><circle cx="393.6" cy="153.5" r="3.1"/><circle cx="393.6" cy="157.8" r="3.1"/><circle cx="402.1" cy="162.7" r="3.1"/><circle cx="402.1" cy="165.9" r="3.1"/><circle cx="410.4" cy="167.3" r="3.1"/><circle cx="412.6" cy="171.0" r="3.1"/><circle cx="410.4" cy="176.8" r="3.1"/></g>
<g fill="#f5a623" stroke="#111" stroke-width="0.6"><circle cx="385.6" cy="149.5" r="3.1"/></g>
<circle cx="385.3" cy="113.7" r="5.5" fill="none" stroke="#1414a0" stroke-width="1.6"/>
<circle cx="385.3" cy="149.4" r="5.5" fill="none" stroke="#1414a0" stroke-width="1.6"/>
<text x="357.70" y="125.90" font-size="7.83" fill="#2a2aa8" textLength="60.96" lengthAdjust="spacingAndGlyphs" stroke="#2a2aa8" stroke-width="0.15" stroke-opacity="0.7" >PD transient state</text>
<text x="308.01" y="152.40" font-size="7.83" fill="#2a2aa8" textLength="68.79" lengthAdjust="spacingAndGlyphs" stroke="#2a2aa8" stroke-width="0.15" stroke-opacity="0.7" >PD equilibrium state</text>
<rect x="251.60" y="12.30" width="200.5" height="184.1" fill="none" stroke="#6a6a6a" stroke-width="1"/>
<line x1="251.60" y1="196.40" x2="251.60" y2="198.90" stroke="#6a6a6a" stroke-width="0.8"/>
<text x="246.62" y="205.90" font-size="7.83" fill="#262626" textLength="9.95" lengthAdjust="spacingAndGlyphs" stroke="#262626" stroke-width="0.15" stroke-opacity="0.7" >−4</text>
<line x1="285.02" y1="196.40" x2="285.02" y2="198.90" stroke="#6a6a6a" stroke-width="0.8"/>
<text x="280.04" y="205.90" font-size="7.83" fill="#262626" textLength="9.95" lengthAdjust="spacingAndGlyphs" stroke="#262626" stroke-width="0.15" stroke-opacity="0.7" >−3</text>
<line x1="318.43" y1="196.40" x2="318.43" y2="198.90" stroke="#6a6a6a" stroke-width="0.8"/>
<text x="313.46" y="205.90" font-size="7.83" fill="#262626" textLength="9.95" lengthAdjust="spacingAndGlyphs" stroke="#262626" stroke-width="0.15" stroke-opacity="0.7" >−2</text>
<line x1="351.85" y1="196.40" x2="351.85" y2="198.90" stroke="#6a6a6a" stroke-width="0.8"/>
<text x="346.87" y="205.90" font-size="7.83" fill="#262626" textLength="9.95" lengthAdjust="spacingAndGlyphs" stroke="#262626" stroke-width="0.15" stroke-opacity="0.7" >−1</text>
<line x1="385.27" y1="196.40" x2="385.27" y2="198.90" stroke="#6a6a6a" stroke-width="0.8"/>
<text x="383.12" y="205.90" font-size="7.83" fill="#262626" textLength="4.29" lengthAdjust="spacingAndGlyphs" stroke="#262626" stroke-width="0.15" stroke-opacity="0.7" >0</text>
<line x1="418.68" y1="196.40" x2="418.68" y2="198.90" stroke="#6a6a6a" stroke-width="0.8"/>
<text x="416.54" y="205.90" font-size="7.83" fill="#262626" textLength="4.29" lengthAdjust="spacingAndGlyphs" stroke="#262626" stroke-width="0.15" stroke-opacity="0.7" >1</text>
<line x1="452.10" y1="196.40" x2="452.10" y2="198.90" stroke="#6a6a6a" stroke-width="0.8"/>
<text x="449.95" y="205.90" font-size="7.83" fill="#262626" textLength="4.29" lengthAdjust="spacingAndGlyphs" stroke="#262626" stroke-width="0.15" stroke-opacity="0.7" >2</text>
<line x1="249.10" y1="187.19" x2="251.60" y2="187.19" stroke="#6a6a6a" stroke-width="0.8"/>
<line x1="249.10" y1="168.78" x2="251.60" y2="168.78" stroke="#6a6a6a" stroke-width="0.8"/>
<line x1="249.10" y1="150.38" x2="251.60" y2="150.38" stroke="#6a6a6a" stroke-width="0.8"/>
<line x1="249.10" y1="131.97" x2="251.60" y2="131.97" stroke="#6a6a6a" stroke-width="0.8"/>
<line x1="249.10" y1="113.56" x2="251.60" y2="113.56" stroke="#6a6a6a" stroke-width="0.8"/>
<line x1="249.10" y1="95.14" x2="251.60" y2="95.14" stroke="#6a6a6a" stroke-width="0.8"/>
<line x1="249.10" y1="76.73" x2="251.60" y2="76.73" stroke="#6a6a6a" stroke-width="0.8"/>
<line x1="249.10" y1="58.33" x2="251.60" y2="58.33" stroke="#6a6a6a" stroke-width="0.8"/>
<line x1="249.10" y1="39.91" x2="251.60" y2="39.91" stroke="#6a6a6a" stroke-width="0.8"/>
<line x1="249.10" y1="21.51" x2="251.60" y2="21.51" stroke="#6a6a6a" stroke-width="0.8"/>
<text x="286.01" y="214.90" font-size="7.83" fill="#262626" textLength="131.69" lengthAdjust="spacingAndGlyphs" stroke="#262626" stroke-width="0.15" stroke-opacity="0.7" >Deep ocean temperature anomaly [°C]</text>
<text x="251.90" y="6.60" font-size="9.16" fill="#1a1a1a" textLength="12.88" lengthAdjust="spacingAndGlyphs" font-weight="bold" >(b)</text>
<text x="268.70" y="6.60" font-size="9.16" fill="#1a1a1a" textLength="191.65" lengthAdjust="spacingAndGlyphs" stroke="#1a1a1a" stroke-width="0.15" stroke-opacity="0.7" >Run B: Tipping point crossed briefly: "overshoot"</text>
<rect x="254.80" y="171.20" width="50.3" height="21.8" rx="1.5" fill="#e6e7ef"/>
<circle cx="264.60" cy="177.10" r="3.1" fill="#f5a623" stroke="#111" stroke-width="0.6"/>
<text x="277.20" y="179.30" font-size="7.83" fill="#262626" textLength="25.27" lengthAdjust="spacingAndGlyphs" stroke="#262626" stroke-width="0.15" stroke-opacity="0.7" >MIS 2-1</text>
<circle cx="264.60" cy="187.10" r="3.1" fill="#7f0f8f" stroke="#111" stroke-width="0.6"/>
<text x="277.20" y="189.30" font-size="7.83" fill="#262626" textLength="25.27" lengthAdjust="spacingAndGlyphs" stroke="#262626" stroke-width="0.15" stroke-opacity="0.7" >MIS 8-7</text>
<rect x="482.20" y="12.30" width="83.54" height="184.1" fill="#eef0fc"/>
<rect x="574.10" y="12.30" width="41.77" height="184.1" fill="#f8eefa"/>
<rect x="624.22" y="12.30" width="58.48" height="184.1" fill="#fbf0f0"/>
<rect x="565.44" y="12.30" width="9.05" height="184.1" fill="#cbcbcb"/>
<rect x="615.57" y="12.30" width="9.05" height="184.1" fill="#cbcbcb"/>
<text x="485.40" y="21.00" font-size="7.83" fill="#2c2cae" textLength="51.39" lengthAdjust="spacingAndGlyphs" stroke="#2c2cae" stroke-width="0.15" stroke-opacity="0.7" >Glaciated WAIS</text>
<text x="575.25" y="20.90" font-size="7.83" fill="#9430ae" textLength="39.46" lengthAdjust="spacingAndGlyphs" stroke="#9430ae" stroke-width="0.15" stroke-opacity="0.7" >Glaciated &amp;</text>
<text x="579.27" y="28.10" font-size="7.83" fill="#9430ae" textLength="31.43" lengthAdjust="spacingAndGlyphs" stroke="#9430ae" stroke-width="0.15" stroke-opacity="0.7" >retreated</text>
<text x="586.38" y="35.40" font-size="7.83" fill="#9430ae" textLength="17.20" lengthAdjust="spacingAndGlyphs" stroke="#9430ae" stroke-width="0.15" stroke-opacity="0.7" >WAIS</text>
<text x="626.97" y="21.00" font-size="7.83" fill="#a02828" textLength="52.53" lengthAdjust="spacingAndGlyphs" stroke="#a02828" stroke-width="0.15" stroke-opacity="0.7" >Retreated WAIS</text>
<path d="M488.0,84.0 L494.0,85.0 L500.0,86.0 L506.0,86.5 L512.0,87.0 L518.0,87.5 L524.0,87.8 L530.0,88.3" fill="none" stroke="#f4845a" stroke-width="0.8" stroke-opacity="0.5" stroke-linejoin="round"/>
<g fill="#f4845a" fill-opacity="0.75"><circle cx="488.0" cy="84.0" r="1.0"/><circle cx="491.0" cy="84.5" r="1.0"/><circle cx="494.0" cy="85.0" r="1.0"/><circle cx="497.0" cy="85.5" r="1.0"/><circle cx="500.0" cy="86.0" r="1.0"/><circle cx="503.0" cy="86.2" r="1.0"/><circle cx="506.0" cy="86.5" r="1.0"/><circle cx="509.0" cy="86.8" r="1.0"/><circle cx="512.0" cy="87.0" r="1.0"/><circle cx="515.0" cy="87.2" r="1.0"/><circle cx="518.0" cy="87.5" r="1.0"/><circle cx="521.0" cy="87.7" r="1.0"/><circle cx="524.0" cy="87.8" r="1.0"/><circle cx="527.0" cy="88.0" r="1.0"/><circle cx="530.0" cy="88.3" r="1.0"/></g>
<path d="M490.0,58.5 L494.0,58.0 L498.0,58.8 L502.0,60.5" fill="none" stroke="#f4845a" stroke-width="0.8" stroke-opacity="0.5" stroke-linejoin="round"/>
<g fill="#f4845a" fill-opacity="0.75"><circle cx="490.0" cy="58.5" r="1.0"/><circle cx="492.0" cy="58.2" r="1.0"/><circle cx="494.0" cy="58.0" r="1.0"/><circle cx="496.0" cy="58.4" r="1.0"/><circle cx="498.0" cy="58.8" r="1.0"/><circle cx="500.0" cy="59.6" r="1.0"/><circle cx="502.0" cy="60.5" r="1.0"/></g>
<path d="M489.3,59.5 L493.7,58.8 L498.2,59.5 L504.0,62.0 L511.4,62.8 L520.2,63.5 L526.1,65.3 L537.8,66.7 L549.5,67.9 L561.3,70.1 L565.0,70.7 L572.9,72.1 L585.1,73.8 L597.4,75.9 L610.5,77.7 L623.7,81.2 L635.1,85.9 L643.8,91.7 L650.8,99.6 L656.1,107.9 L656.1,123.7 L650.0,131.5 L642.1,137.7 L635.1,144.7 L632.4,150.8 L633.3,156.1 L629.8,159.6 L622.8,161.3 L614.1,160.4 L603.5,157.8 L589.5,154.3 L580.8,152.6 L572.0,149.9 L565.0,147.3" fill="none" stroke="#f4845a" stroke-width="0.8" stroke-opacity="0.5" stroke-linejoin="round"/>
<g fill="#f4845a" fill-opacity="0.75"><circle cx="489.3" cy="59.5" r="1.0"/><circle cx="493.7" cy="58.8" r="1.0"/><circle cx="498.2" cy="59.5" r="1.0"/><circle cx="504.0" cy="62.0" r="1.0"/><circle cx="511.4" cy="62.8" r="1.0"/><circle cx="520.2" cy="63.5" r="1.0"/><circle cx="526.1" cy="65.3" r="1.0"/><circle cx="532.0" cy="66.0" r="1.0"/><circle cx="537.8" cy="66.7" r="1.0"/><circle cx="543.6" cy="67.3" r="1.0"/><circle cx="549.5" cy="67.9" r="1.0"/><circle cx="555.4" cy="69.0" r="1.0"/><circle cx="561.3" cy="70.1" r="1.0"/><circle cx="565.0" cy="70.7" r="1.0"/><circle cx="572.9" cy="72.1" r="1.0"/><circle cx="579.0" cy="72.9" r="1.0"/><circle cx="585.1" cy="73.8" r="1.0"/><circle cx="591.2" cy="74.8" r="1.0"/><circle cx="597.4" cy="75.9" r="1.0"/><circle cx="604.0" cy="76.8" r="1.0"/><circle cx="610.5" cy="77.7" r="1.0"/><circle cx="617.1" cy="79.5" r="1.0"/><circle cx="623.7" cy="81.2" r="1.0"/><circle cx="629.4" cy="83.6" r="1.0"/><circle cx="635.1" cy="85.9" r="1.0"/><circle cx="643.8" cy="91.7" r="1.0"/><circle cx="647.3" cy="95.7" r="1.0"/><circle cx="650.8" cy="99.6" r="1.0"/><circle cx="656.1" cy="107.9" r="1.0"/><circle cx="656.1" cy="115.8" r="1.0"/><circle cx="656.1" cy="123.7" r="1.0"/><circle cx="650.0" cy="131.5" r="1.0"/><circle cx="642.1" cy="137.7" r="1.0"/><circle cx="635.1" cy="144.7" r="1.0"/><circle cx="632.4" cy="150.8" r="1.0"/><circle cx="633.3" cy="156.1" r="1.0"/><circle cx="629.8" cy="159.6" r="1.0"/><circle cx="622.8" cy="161.3" r="1.0"/><circle cx="614.1" cy="160.4" r="1.0"/><circle cx="608.8" cy="159.1" r="1.0"/><circle cx="603.5" cy="157.8" r="1.0"/><circle cx="596.5" cy="156.1" r="1.0"/><circle cx="589.5" cy="154.3" r="1.0"/><circle cx="580.8" cy="152.6" r="1.0"/><circle cx="572.0" cy="149.9" r="1.0"/><circle cx="565.0" cy="147.3" r="1.0"/></g>
<path d="M502.6,65.0 L504.8,67.2 L508.4,67.2 L512.8,68.6 L515.8,70.1" fill="none" stroke="#f4845a" stroke-width="0.8" stroke-opacity="0.5" stroke-linejoin="round"/>
<g fill="#f4845a" fill-opacity="0.75"><circle cx="502.6" cy="65.0" r="1.0"/><circle cx="504.8" cy="67.2" r="1.0"/><circle cx="508.4" cy="67.2" r="1.0"/><circle cx="512.8" cy="68.6" r="1.0"/><circle cx="515.8" cy="70.1" r="1.0"/></g>
<path d="M495.2,72.6 L501.1,72.6 L507.0,73.5 L512.8,75.2 L517.2,76.7" fill="none" stroke="#f4845a" stroke-width="0.8" stroke-opacity="0.5" stroke-linejoin="round"/>
<g fill="#f4845a" fill-opacity="0.75"><circle cx="495.2" cy="72.6" r="1.0"/><circle cx="498.1" cy="72.6" r="1.0"/><circle cx="501.1" cy="72.6" r="1.0"/><circle cx="504.1" cy="73.0" r="1.0"/><circle cx="507.0" cy="73.5" r="1.0"/><circle cx="509.9" cy="74.3" r="1.0"/><circle cx="512.8" cy="75.2" r="1.0"/><circle cx="517.2" cy="76.7" r="1.0"/></g>
<path d="M504.0,78.9 L511.4,79.6 L518.7,81.9 L526.1,82.6 L533.4,84.1" fill="none" stroke="#f4845a" stroke-width="0.8" stroke-opacity="0.5" stroke-linejoin="round"/>
<g fill="#f4845a" fill-opacity="0.75"><circle cx="504.0" cy="78.9" r="1.0"/><circle cx="507.7" cy="79.2" r="1.0"/><circle cx="511.4" cy="79.6" r="1.0"/><circle cx="515.0" cy="80.8" r="1.0"/><circle cx="518.7" cy="81.9" r="1.0"/><circle cx="522.4" cy="82.2" r="1.0"/><circle cx="526.1" cy="82.6" r="1.0"/><circle cx="529.8" cy="83.3" r="1.0"/><circle cx="533.4" cy="84.1" r="1.0"/></g>
<path d="M505.5,87.0 L514.3,87.7 L523.1,88.2 L531.9,88.8 L540.7,89.6 L546.6,89.6 L543.7,89.9 L537.8,90.7 L533.4,92.1 L530.5,95.1 L532.7,97.3 L537.8,98.7" fill="none" stroke="#f4845a" stroke-width="0.8" stroke-opacity="0.5" stroke-linejoin="round"/>
<g fill="#f4845a" fill-opacity="0.75"><circle cx="505.5" cy="87.0" r="1.0"/><circle cx="508.4" cy="87.2" r="1.0"/><circle cx="511.4" cy="87.5" r="1.0"/><circle cx="514.3" cy="87.7" r="1.0"/><circle cx="517.2" cy="87.9" r="1.0"/><circle cx="520.2" cy="88.0" r="1.0"/><circle cx="523.1" cy="88.2" r="1.0"/><circle cx="526.0" cy="88.4" r="1.0"/><circle cx="529.0" cy="88.6" r="1.0"/><circle cx="531.9" cy="88.8" r="1.0"/><circle cx="534.8" cy="89.1" r="1.0"/><circle cx="537.8" cy="89.3" r="1.0"/><circle cx="540.7" cy="89.6" r="1.0"/><circle cx="543.7" cy="89.6" r="1.0"/><circle cx="546.6" cy="89.6" r="1.0"/><circle cx="543.7" cy="89.9" r="1.0"/><circle cx="540.8" cy="90.3" r="1.0"/><circle cx="537.8" cy="90.7" r="1.0"/><circle cx="533.4" cy="92.1" r="1.0"/><circle cx="530.5" cy="95.1" r="1.0"/><circle cx="532.7" cy="97.3" r="1.0"/><circle cx="535.2" cy="98.0" r="1.0"/><circle cx="537.8" cy="98.7" r="1.0"/></g>
<path d="M527.5,119.1 L531.9,116.9 L530.0,120.0 L534.9,122.8 L540.7,121.3 L548.1,122.0" fill="none" stroke="#f4845a" stroke-width="0.8" stroke-opacity="0.5" stroke-linejoin="round"/>
<g fill="#f4845a" fill-opacity="0.75"><circle cx="527.5" cy="119.1" r="1.0"/><circle cx="531.9" cy="116.9" r="1.0"/><circle cx="530.0" cy="120.0" r="1.0"/><circle cx="532.5" cy="121.4" r="1.0"/><circle cx="534.9" cy="122.8" r="1.0"/><circle cx="537.8" cy="122.0" r="1.0"/><circle cx="540.7" cy="121.3" r="1.0"/><circle cx="544.4" cy="121.7" r="1.0"/><circle cx="548.1" cy="122.0" r="1.0"/></g>
<path d="M537.8,126.4 L545.1,127.9 L552.5,129.4 L559.8,129.4 L567.2,130.1 L576.0,130.8 L580.3,130.2" fill="none" stroke="#f4845a" stroke-width="0.8" stroke-opacity="0.5" stroke-linejoin="round"/>
<g fill="#f4845a" fill-opacity="0.75"><circle cx="537.8" cy="126.4" r="1.0"/><circle cx="541.5" cy="127.2" r="1.0"/><circle cx="545.1" cy="127.9" r="1.0"/><circle cx="548.8" cy="128.7" r="1.0"/><circle cx="552.5" cy="129.4" r="1.0"/><circle cx="556.1" cy="129.4" r="1.0"/><circle cx="559.8" cy="129.4" r="1.0"/><circle cx="563.5" cy="129.8" r="1.0"/><circle cx="567.2" cy="130.1" r="1.0"/><circle cx="570.1" cy="130.3" r="1.0"/><circle cx="573.1" cy="130.6" r="1.0"/><circle cx="576.0" cy="130.8" r="1.0"/><circle cx="580.3" cy="130.2" r="1.0"/></g>
<path d="M533.4,130.8 L543.7,133.0 L552.5,134.5 L561.3,135.2 L568.6,138.2" fill="none" stroke="#f4845a" stroke-width="0.8" stroke-opacity="0.5" stroke-linejoin="round"/>
<g fill="#f4845a" fill-opacity="0.75"><circle cx="533.4" cy="130.8" r="1.0"/><circle cx="536.8" cy="131.5" r="1.0"/><circle cx="540.3" cy="132.3" r="1.0"/><circle cx="543.7" cy="133.0" r="1.0"/><circle cx="546.6" cy="133.5" r="1.0"/><circle cx="549.6" cy="134.0" r="1.0"/><circle cx="552.5" cy="134.5" r="1.0"/><circle cx="555.4" cy="134.7" r="1.0"/><circle cx="558.4" cy="135.0" r="1.0"/><circle cx="561.3" cy="135.2" r="1.0"/><circle cx="565.0" cy="136.7" r="1.0"/><circle cx="568.6" cy="138.2" r="1.0"/></g>
<path d="M529.0,140.4 L536.3,141.9 L543.7,143.3 L551.0,144.1" fill="none" stroke="#f4845a" stroke-width="0.8" stroke-opacity="0.5" stroke-linejoin="round"/>
<g fill="#f4845a" fill-opacity="0.75"><circle cx="529.0" cy="140.4" r="1.0"/><circle cx="532.6" cy="141.2" r="1.0"/><circle cx="536.3" cy="141.9" r="1.0"/><circle cx="540.0" cy="142.6" r="1.0"/><circle cx="543.7" cy="143.3" r="1.0"/><circle cx="547.4" cy="143.7" r="1.0"/><circle cx="551.0" cy="144.1" r="1.0"/></g>
<path d="M565.2,147.8 L577.7,151.6 L589.1,154.7 L595.3,156.0" fill="none" stroke="#f4845a" stroke-width="0.8" stroke-opacity="0.5" stroke-linejoin="round"/>
<g fill="#f4845a" fill-opacity="0.75"><circle cx="565.2" cy="147.8" r="1.0"/><circle cx="568.3" cy="148.8" r="1.0"/><circle cx="571.5" cy="149.7" r="1.0"/><circle cx="574.6" cy="150.7" r="1.0"/><circle cx="577.7" cy="151.6" r="1.0"/><circle cx="581.5" cy="152.6" r="1.0"/><circle cx="585.3" cy="153.7" r="1.0"/><circle cx="589.1" cy="154.7" r="1.0"/><circle cx="592.2" cy="155.3" r="1.0"/><circle cx="595.3" cy="156.0" r="1.0"/></g>
<path d="M585.0,153.6 L593.8,155.8 L604.0,158.0 L615.7,159.5 L624.4,160.2 L630.3,158.8 L632.4,155.8 L631.7,151.5" fill="none" stroke="#f4845a" stroke-width="0.8" stroke-opacity="0.5" stroke-linejoin="round"/>
<g fill="#f4845a" fill-opacity="0.75"><circle cx="585.0" cy="153.6" r="1.0"/><circle cx="587.9" cy="154.3" r="1.0"/><circle cx="590.9" cy="155.1" r="1.0"/><circle cx="593.8" cy="155.8" r="1.0"/><circle cx="597.2" cy="156.5" r="1.0"/><circle cx="600.6" cy="157.3" r="1.0"/><circle cx="604.0" cy="158.0" r="1.0"/><circle cx="607.9" cy="158.5" r="1.0"/><circle cx="611.8" cy="159.0" r="1.0"/><circle cx="615.7" cy="159.5" r="1.0"/><circle cx="620.0" cy="159.8" r="1.0"/><circle cx="624.4" cy="160.2" r="1.0"/><circle cx="627.3" cy="159.5" r="1.0"/><circle cx="630.3" cy="158.8" r="1.0"/><circle cx="632.4" cy="155.8" r="1.0"/><circle cx="631.7" cy="151.5" r="1.0"/></g>
<path d="M498.2,83.3 L504.0,84.1 L505.5,87.3 L511.4,87.7 L518.7,88.5 L521.6,89.2 L518.7,91.4 L515.8,93.6 L509.9,95.1 L505.5,96.5 L504.0,99.5 L507.0,101.7 L511.4,102.9 L517.2,106.6 L521.6,109.5 L523.1,111.7 L522.4,114.7 L524.6,118.4 L525.3,122.0 L530.5,123.5 L536.3,125.0 L543.7,127.2 L548.1,127.9" fill="none" stroke="#c03030" stroke-width="0.8" stroke-opacity="0.5" stroke-linejoin="round"/>
<g fill="#c03030" fill-opacity="0.75"><circle cx="498.2" cy="83.3" r="1.0"/><circle cx="501.1" cy="83.7" r="1.0"/><circle cx="504.0" cy="84.1" r="1.0"/><circle cx="505.5" cy="87.3" r="1.0"/><circle cx="508.4" cy="87.5" r="1.0"/><circle cx="511.4" cy="87.7" r="1.0"/><circle cx="513.8" cy="88.0" r="1.0"/><circle cx="516.3" cy="88.2" r="1.0"/><circle cx="518.7" cy="88.5" r="1.0"/><circle cx="521.6" cy="89.2" r="1.0"/><circle cx="518.7" cy="91.4" r="1.0"/><circle cx="515.8" cy="93.6" r="1.0"/><circle cx="512.8" cy="94.3" r="1.0"/><circle cx="509.9" cy="95.1" r="1.0"/><circle cx="507.7" cy="95.8" r="1.0"/><circle cx="505.5" cy="96.5" r="1.0"/><circle cx="504.0" cy="99.5" r="1.0"/><circle cx="507.0" cy="101.7" r="1.0"/><circle cx="509.2" cy="102.3" r="1.0"/><circle cx="511.4" cy="102.9" r="1.0"/><circle cx="513.3" cy="104.1" r="1.0"/><circle cx="515.3" cy="105.4" r="1.0"/><circle cx="517.2" cy="106.6" r="1.0"/><circle cx="519.4" cy="108.0" r="1.0"/><circle cx="521.6" cy="109.5" r="1.0"/><circle cx="523.1" cy="111.7" r="1.0"/><circle cx="522.4" cy="114.7" r="1.0"/><circle cx="523.5" cy="116.6" r="1.0"/><circle cx="524.6" cy="118.4" r="1.0"/><circle cx="525.3" cy="122.0" r="1.0"/><circle cx="527.9" cy="122.8" r="1.0"/><circle cx="530.5" cy="123.5" r="1.0"/><circle cx="533.4" cy="124.2" r="1.0"/><circle cx="536.3" cy="125.0" r="1.0"/><circle cx="538.8" cy="125.7" r="1.0"/><circle cx="541.2" cy="126.5" r="1.0"/><circle cx="543.7" cy="127.2" r="1.0"/><circle cx="545.9" cy="127.6" r="1.0"/><circle cx="548.1" cy="127.9" r="1.0"/></g>
<path d="M526.1,133.8 L534.9,134.5 L543.7,136.7 L552.5,138.2 L564.2,140.4 L573.0,141.1" fill="none" stroke="#c03030" stroke-width="0.8" stroke-opacity="0.5" stroke-linejoin="round"/>
<g fill="#c03030" fill-opacity="0.75"><circle cx="526.1" cy="133.8" r="1.0"/><circle cx="529.0" cy="134.0" r="1.0"/><circle cx="532.0" cy="134.3" r="1.0"/><circle cx="534.9" cy="134.5" r="1.0"/><circle cx="537.8" cy="135.2" r="1.0"/><circle cx="540.8" cy="136.0" r="1.0"/><circle cx="543.7" cy="136.7" r="1.0"/><circle cx="546.6" cy="137.2" r="1.0"/><circle cx="549.6" cy="137.7" r="1.0"/><circle cx="552.5" cy="138.2" r="1.0"/><circle cx="556.4" cy="138.9" r="1.0"/><circle cx="560.3" cy="139.7" r="1.0"/><circle cx="564.2" cy="140.4" r="1.0"/><circle cx="567.1" cy="140.6" r="1.0"/><circle cx="570.1" cy="140.9" r="1.0"/><circle cx="573.0" cy="141.1" r="1.0"/></g>
<path d="M543.7,152.9 L552.5,155.1 L561.3,156.5 L570.1,158.0 L578.9,160.2" fill="none" stroke="#c03030" stroke-width="0.8" stroke-opacity="0.5" stroke-linejoin="round"/>
<g fill="#c03030" fill-opacity="0.75"><circle cx="543.7" cy="152.9" r="1.0"/><circle cx="546.6" cy="153.6" r="1.0"/><circle cx="549.6" cy="154.4" r="1.0"/><circle cx="552.5" cy="155.1" r="1.0"/><circle cx="555.4" cy="155.6" r="1.0"/><circle cx="558.4" cy="156.0" r="1.0"/><circle cx="561.3" cy="156.5" r="1.0"/><circle cx="564.2" cy="157.0" r="1.0"/><circle cx="567.2" cy="157.5" r="1.0"/><circle cx="570.1" cy="158.0" r="1.0"/><circle cx="573.0" cy="158.7" r="1.0"/><circle cx="576.0" cy="159.5" r="1.0"/><circle cx="578.9" cy="160.2" r="1.0"/></g>
<path d="M559.8,148.5 L570.1,149.2 L580.4,150.7" fill="none" stroke="#c03030" stroke-width="0.8" stroke-opacity="0.5" stroke-linejoin="round"/>
<g fill="#c03030" fill-opacity="0.75"><circle cx="559.8" cy="148.5" r="1.0"/><circle cx="563.2" cy="148.7" r="1.0"/><circle cx="566.7" cy="149.0" r="1.0"/><circle cx="570.1" cy="149.2" r="1.0"/><circle cx="573.5" cy="149.7" r="1.0"/><circle cx="577.0" cy="150.2" r="1.0"/><circle cx="580.4" cy="150.7" r="1.0"/></g>
<path d="M565.0,85.9 L575.5,87.3 L587.8,88.7 L600.0,91.2 L612.3,94.3 L628.1,99.6 L636.8,103.1 L644.7,106.7 L650.8,109.7 L658.7,114.9 L667.5,124.5 L671.5,135.9 L671.0,148.2 L669.7,150.7 L664.9,156.1 L652.6,160.4 L640.3,163.1 L628.1,164.5 L617.6,164.8 L605.3,163.9 L593.0,162.2 L582.5,161.3 L573.8,159.6 L565.0,158.7" fill="none" stroke="#c03030" stroke-width="0.8" stroke-opacity="0.45" stroke-linejoin="round"/>
<g fill="#c03030" fill-opacity="0.7"><circle cx="565.0" cy="85.9" r="1.0"/><circle cx="575.5" cy="87.3" r="1.0"/><circle cx="581.6" cy="88.0" r="1.0"/><circle cx="587.8" cy="88.7" r="1.0"/><circle cx="593.9" cy="90.0" r="1.0"/><circle cx="600.0" cy="91.2" r="1.0"/><circle cx="606.1" cy="92.8" r="1.0"/><circle cx="612.3" cy="94.3" r="1.0"/><circle cx="620.2" cy="96.9" r="1.0"/><circle cx="628.1" cy="99.6" r="1.0"/><circle cx="636.8" cy="103.1" r="1.0"/><circle cx="644.7" cy="106.7" r="1.0"/><circle cx="650.8" cy="109.7" r="1.0"/><circle cx="658.7" cy="114.9" r="1.0"/><circle cx="663.1" cy="119.7" r="1.0"/><circle cx="667.5" cy="124.5" r="1.0"/><circle cx="669.5" cy="130.2" r="1.0"/><circle cx="671.5" cy="135.9" r="1.0"/><circle cx="671.2" cy="142.1" r="1.0"/><circle cx="671.0" cy="148.2" r="1.0"/><circle cx="669.7" cy="150.7" r="1.0"/><circle cx="664.9" cy="156.1" r="1.0"/><circle cx="658.8" cy="158.2" r="1.0"/><circle cx="652.6" cy="160.4" r="1.0"/><circle cx="646.5" cy="161.8" r="1.0"/><circle cx="640.3" cy="163.1" r="1.0"/><circle cx="634.2" cy="163.8" r="1.0"/><circle cx="628.1" cy="164.5" r="1.0"/><circle cx="617.6" cy="164.8" r="1.0"/><circle cx="611.5" cy="164.4" r="1.0"/><circle cx="605.3" cy="163.9" r="1.0"/><circle cx="599.1" cy="163.1" r="1.0"/><circle cx="593.0" cy="162.2" r="1.0"/><circle cx="582.5" cy="161.3" r="1.0"/><circle cx="573.8" cy="159.6" r="1.0"/><circle cx="565.0" cy="158.7" r="1.0"/></g>
<path d="M562.6,146.5 L571.4,148.4 L580.3,149.7" fill="none" stroke="#c03030" stroke-width="0.8" stroke-opacity="0.5" stroke-linejoin="round"/>
<g fill="#c03030" fill-opacity="0.75"><circle cx="562.6" cy="146.5" r="1.0"/><circle cx="565.5" cy="147.1" r="1.0"/><circle cx="568.5" cy="147.8" r="1.0"/><circle cx="571.4" cy="148.4" r="1.0"/><circle cx="574.4" cy="148.8" r="1.0"/><circle cx="577.3" cy="149.3" r="1.0"/><circle cx="580.3" cy="149.7" r="1.0"/></g>
<path d="M540.0,136.5 L547.5,137.7 L555.1,138.4" fill="none" stroke="#c03030" stroke-width="0.8" stroke-opacity="0.5" stroke-linejoin="round"/>
<g fill="#c03030" fill-opacity="0.75"><circle cx="540.0" cy="136.5" r="1.0"/><circle cx="543.8" cy="137.1" r="1.0"/><circle cx="547.5" cy="137.7" r="1.0"/><circle cx="551.3" cy="138.1" r="1.0"/><circle cx="555.1" cy="138.4" r="1.0"/></g>
<path d="M493.7,51.0 L495.0,49.5 L497.0,48.5" fill="none" stroke="#2a2ab0" stroke-width="0.8" stroke-opacity="0.5" stroke-linejoin="round"/>
<g fill="#2a2ab0" fill-opacity="0.9"><circle cx="493.7" cy="51.0" r="1.1"/><circle cx="495.0" cy="49.5" r="1.1"/><circle cx="497.0" cy="48.5" r="1.1"/></g>
<path d="M493.7,51.0 L496.7,49.5 L501.1,48.8 L504.0,48.5 L505.5,52.5 L507.7,54.7 L515.8,56.9 L529.0,57.9 L537.8,57.9 L548.1,58.4 L558.4,59.1 L565.0,60.1 L571.1,61.0 L579.9,62.8 L586.9,64.9 L596.5,66.3 L607.0,67.2 L601.0,67.6 L595.7,68.0 L592.2,68.9 L594.8,70.7 L599.2,70.7 L605.3,71.9 L609.7,73.3 L611.4,75.9 L613.2,79.4 L615.8,82.0 L619.3,85.5 L621.9,88.2 L622.8,91.7 L621.1,95.2 L620.2,98.7 L621.9,102.2 L625.4,106.8 L631.6,110.5 L636.8,117.5 L642.1,128.0 L643.0,136.8 L643.0,147.3 L644.7,156.1 L644.9,161.7 L641.9,166.1 L636.1,168.2 L628.8,168.2 L621.5,167.5 L614.2,166.1 L606.9,163.9 L599.6,161.0 L592.3,158.8 L585.0,156.6 L573.8,156.4 L565.2,155.3 L556.4,154.7 L547.5,152.8 L540.0,150.9" fill="none" stroke="#2a2ab0" stroke-width="0.8" stroke-opacity="0.5" stroke-linejoin="round"/>
<g fill="#2a2ab0" fill-opacity="0.9"><circle cx="493.7" cy="51.0" r="1.1"/><circle cx="496.7" cy="49.5" r="1.1"/><circle cx="501.1" cy="48.8" r="1.1"/><circle cx="504.0" cy="48.5" r="1.1"/><circle cx="505.5" cy="52.5" r="1.1"/><circle cx="507.7" cy="54.7" r="1.1"/><circle cx="511.8" cy="55.8" r="1.1"/><circle cx="515.8" cy="56.9" r="1.1"/><circle cx="520.2" cy="57.2" r="1.1"/><circle cx="524.6" cy="57.6" r="1.1"/><circle cx="529.0" cy="57.9" r="1.1"/><circle cx="533.4" cy="57.9" r="1.1"/><circle cx="537.8" cy="57.9" r="1.1"/><circle cx="541.2" cy="58.1" r="1.1"/><circle cx="544.7" cy="58.2" r="1.1"/><circle cx="548.1" cy="58.4" r="1.1"/><circle cx="551.5" cy="58.6" r="1.1"/><circle cx="555.0" cy="58.9" r="1.1"/><circle cx="558.4" cy="59.1" r="1.1"/><circle cx="561.7" cy="59.6" r="1.1"/><circle cx="565.0" cy="60.1" r="1.1"/><circle cx="568.0" cy="60.5" r="1.1"/><circle cx="571.1" cy="61.0" r="1.1"/><circle cx="575.5" cy="61.9" r="1.1"/><circle cx="579.9" cy="62.8" r="1.1"/><circle cx="583.4" cy="63.9" r="1.1"/><circle cx="586.9" cy="64.9" r="1.1"/><circle cx="591.7" cy="65.6" r="1.1"/><circle cx="596.5" cy="66.3" r="1.1"/><circle cx="600.0" cy="66.6" r="1.1"/><circle cx="603.5" cy="66.9" r="1.1"/><circle cx="607.0" cy="67.2" r="1.1"/><circle cx="604.0" cy="67.4" r="1.1"/><circle cx="601.0" cy="67.6" r="1.1"/><circle cx="595.7" cy="68.0" r="1.1"/><circle cx="592.2" cy="68.9" r="1.1"/><circle cx="594.8" cy="70.7" r="1.1"/><circle cx="599.2" cy="70.7" r="1.1"/><circle cx="602.2" cy="71.3" r="1.1"/><circle cx="605.3" cy="71.9" r="1.1"/><circle cx="609.7" cy="73.3" r="1.1"/><circle cx="611.4" cy="75.9" r="1.1"/><circle cx="613.2" cy="79.4" r="1.1"/><circle cx="615.8" cy="82.0" r="1.1"/><circle cx="619.3" cy="85.5" r="1.1"/><circle cx="621.9" cy="88.2" r="1.1"/><circle cx="622.8" cy="91.7" r="1.1"/><circle cx="621.1" cy="95.2" r="1.1"/><circle cx="620.2" cy="98.7" r="1.1"/><circle cx="621.9" cy="102.2" r="1.1"/><circle cx="625.4" cy="106.8" r="1.1"/><circle cx="628.5" cy="108.7" r="1.1"/><circle cx="631.6" cy="110.5" r="1.1"/><circle cx="634.2" cy="114.0" r="1.1"/><circle cx="636.8" cy="117.5" r="1.1"/><circle cx="638.6" cy="121.0" r="1.1"/><circle cx="640.3" cy="124.5" r="1.1"/><circle cx="642.1" cy="128.0" r="1.1"/><circle cx="642.5" cy="132.4" r="1.1"/><circle cx="643.0" cy="136.8" r="1.1"/><circle cx="643.0" cy="140.3" r="1.1"/><circle cx="643.0" cy="143.8" r="1.1"/><circle cx="643.0" cy="147.3" r="1.1"/><circle cx="643.9" cy="151.7" r="1.1"/><circle cx="644.7" cy="156.1" r="1.1"/><circle cx="644.9" cy="161.7" r="1.1"/><circle cx="641.9" cy="166.1" r="1.1"/><circle cx="639.0" cy="167.1" r="1.1"/><circle cx="636.1" cy="168.2" r="1.1"/><circle cx="632.5" cy="168.2" r="1.1"/><circle cx="628.8" cy="168.2" r="1.1"/><circle cx="625.1" cy="167.8" r="1.1"/><circle cx="621.5" cy="167.5" r="1.1"/><circle cx="617.9" cy="166.8" r="1.1"/><circle cx="614.2" cy="166.1" r="1.1"/><circle cx="610.5" cy="165.0" r="1.1"/><circle cx="606.9" cy="163.9" r="1.1"/><circle cx="603.2" cy="162.4" r="1.1"/><circle cx="599.6" cy="161.0" r="1.1"/><circle cx="596.0" cy="159.9" r="1.1"/><circle cx="592.3" cy="158.8" r="1.1"/><circle cx="588.6" cy="157.7" r="1.1"/><circle cx="585.0" cy="156.6" r="1.1"/><circle cx="581.3" cy="156.5" r="1.1"/><circle cx="577.5" cy="156.5" r="1.1"/><circle cx="573.8" cy="156.4" r="1.1"/><circle cx="569.5" cy="155.9" r="1.1"/><circle cx="565.2" cy="155.3" r="1.1"/><circle cx="560.8" cy="155.0" r="1.1"/><circle cx="556.4" cy="154.7" r="1.1"/><circle cx="552.0" cy="153.8" r="1.1"/><circle cx="547.5" cy="152.8" r="1.1"/><circle cx="543.8" cy="151.9" r="1.1"/><circle cx="540.0" cy="150.9" r="1.1"/></g>
<path d="M493.7,51.0 L495.2,54.0 L498.2,54.7 L499.6,58.4 L502.6,61.3 L507.0,62.0 L512.8,61.7 L518.7,61.3 L523.1,62.0 L529.0,62.8 L534.9,62.3 L537.0,62.0" fill="none" stroke="#2a2ab0" stroke-width="0.8" stroke-opacity="0.5" stroke-linejoin="round"/>
<g fill="#2a2ab0" fill-opacity="0.9"><circle cx="493.7" cy="51.0" r="1.0"/><circle cx="495.2" cy="54.0" r="1.0"/><circle cx="498.2" cy="54.7" r="1.0"/><circle cx="499.6" cy="58.4" r="1.0"/><circle cx="502.6" cy="61.3" r="1.0"/><circle cx="507.0" cy="62.0" r="1.0"/><circle cx="509.9" cy="61.9" r="1.0"/><circle cx="512.8" cy="61.7" r="1.0"/><circle cx="515.8" cy="61.5" r="1.0"/><circle cx="518.7" cy="61.3" r="1.0"/><circle cx="523.1" cy="62.0" r="1.0"/><circle cx="526.0" cy="62.4" r="1.0"/><circle cx="529.0" cy="62.8" r="1.0"/><circle cx="532.0" cy="62.5" r="1.0"/><circle cx="534.9" cy="62.3" r="1.0"/><circle cx="537.0" cy="62.0" r="1.0"/></g>
<path d="M521.6,61.3 L524.6,64.2 L523.1,67.2 L526.1,68.6 L530.5,69.4 L534.9,70.1" fill="none" stroke="#2a2ab0" stroke-width="0.8" stroke-opacity="0.5" stroke-linejoin="round"/>
<g fill="#2a2ab0" fill-opacity="0.9"><circle cx="521.6" cy="61.3" r="1.0"/><circle cx="524.6" cy="64.2" r="1.0"/><circle cx="523.1" cy="67.2" r="1.0"/><circle cx="526.1" cy="68.6" r="1.0"/><circle cx="530.5" cy="69.4" r="1.0"/><circle cx="534.9" cy="70.1" r="1.0"/></g>
<path d="M521.6,67.9 L517.2,69.4 L511.4,70.8 L505.5,71.6 L507.0,73.8 L512.8,75.2 L518.7,75.2 L523.1,74.5 L516.0,76.0 L511.4,77.4 L509.9,78.9 L514.3,79.6 L521.6,79.6 L530.5,79.4 L536.3,79.6 L543.7,80.4 L552.5,80.8 L558.4,80.8" fill="none" stroke="#2a2ab0" stroke-width="0.8" stroke-opacity="0.5" stroke-linejoin="round"/>
<g fill="#2a2ab0" fill-opacity="0.9"><circle cx="521.6" cy="67.9" r="1.0"/><circle cx="517.2" cy="69.4" r="1.0"/><circle cx="514.3" cy="70.1" r="1.0"/><circle cx="511.4" cy="70.8" r="1.0"/><circle cx="508.4" cy="71.2" r="1.0"/><circle cx="505.5" cy="71.6" r="1.0"/><circle cx="507.0" cy="73.8" r="1.0"/><circle cx="509.9" cy="74.5" r="1.0"/><circle cx="512.8" cy="75.2" r="1.0"/><circle cx="515.8" cy="75.2" r="1.0"/><circle cx="518.7" cy="75.2" r="1.0"/><circle cx="523.1" cy="74.5" r="1.0"/><circle cx="519.5" cy="75.2" r="1.0"/><circle cx="516.0" cy="76.0" r="1.0"/><circle cx="511.4" cy="77.4" r="1.0"/><circle cx="509.9" cy="78.9" r="1.0"/><circle cx="514.3" cy="79.6" r="1.0"/><circle cx="518.0" cy="79.6" r="1.0"/><circle cx="521.6" cy="79.6" r="1.0"/><circle cx="524.6" cy="79.5" r="1.0"/><circle cx="527.5" cy="79.5" r="1.0"/><circle cx="530.5" cy="79.4" r="1.0"/><circle cx="533.4" cy="79.5" r="1.0"/><circle cx="536.3" cy="79.6" r="1.0"/><circle cx="540.0" cy="80.0" r="1.0"/><circle cx="543.7" cy="80.4" r="1.0"/><circle cx="546.6" cy="80.5" r="1.0"/><circle cx="549.6" cy="80.7" r="1.0"/><circle cx="552.5" cy="80.8" r="1.0"/><circle cx="555.5" cy="80.8" r="1.0"/><circle cx="558.4" cy="80.8" r="1.0"/></g>
<path d="M530.5,82.6 L534.9,84.1 L540.7,85.2 L549.5,85.8 L561.3,85.2" fill="none" stroke="#2a2ab0" stroke-width="0.8" stroke-opacity="0.5" stroke-linejoin="round"/>
<g fill="#2a2ab0" fill-opacity="0.9"><circle cx="530.5" cy="82.6" r="1.0"/><circle cx="534.9" cy="84.1" r="1.0"/><circle cx="537.8" cy="84.7" r="1.0"/><circle cx="540.7" cy="85.2" r="1.0"/><circle cx="543.6" cy="85.4" r="1.0"/><circle cx="546.6" cy="85.6" r="1.0"/><circle cx="549.5" cy="85.8" r="1.0"/><circle cx="553.4" cy="85.6" r="1.0"/><circle cx="557.4" cy="85.4" r="1.0"/><circle cx="561.3" cy="85.2" r="1.0"/></g>
<path d="M522.4,133.8 L527.5,136.0 L533.4,137.4 L540.7,138.9 L548.1,140.4 L555.4,141.9 L562.8,143.3" fill="none" stroke="#2a2ab0" stroke-width="0.8" stroke-opacity="0.5" stroke-linejoin="round"/>
<g fill="#2a2ab0" fill-opacity="0.9"><circle cx="522.4" cy="133.8" r="1.0"/><circle cx="525.0" cy="134.9" r="1.0"/><circle cx="527.5" cy="136.0" r="1.0"/><circle cx="530.5" cy="136.7" r="1.0"/><circle cx="533.4" cy="137.4" r="1.0"/><circle cx="537.0" cy="138.2" r="1.0"/><circle cx="540.7" cy="138.9" r="1.0"/><circle cx="544.4" cy="139.7" r="1.0"/><circle cx="548.1" cy="140.4" r="1.0"/><circle cx="551.8" cy="141.2" r="1.0"/><circle cx="555.4" cy="141.9" r="1.0"/><circle cx="559.1" cy="142.6" r="1.0"/><circle cx="562.8" cy="143.3" r="1.0"/></g>
<path d="M548.1,146.3 L555.4,147.7 L564.2,148.5 L570.1,149.2" fill="none" stroke="#2a2ab0" stroke-width="0.8" stroke-opacity="0.5" stroke-linejoin="round"/>
<g fill="#2a2ab0" fill-opacity="0.9"><circle cx="548.1" cy="146.3" r="1.0"/><circle cx="551.8" cy="147.0" r="1.0"/><circle cx="555.4" cy="147.7" r="1.0"/><circle cx="558.3" cy="148.0" r="1.0"/><circle cx="561.3" cy="148.2" r="1.0"/><circle cx="564.2" cy="148.5" r="1.0"/><circle cx="567.2" cy="148.8" r="1.0"/><circle cx="570.1" cy="149.2" r="1.0"/></g>
<path d="M537.1,151.4 L543.7,150.7 L552.5,149.9 L561.3,149.2" fill="none" stroke="#2a2ab0" stroke-width="0.8" stroke-opacity="0.5" stroke-linejoin="round"/>
<g fill="#2a2ab0" fill-opacity="0.9"><circle cx="537.1" cy="151.4" r="1.0"/><circle cx="540.4" cy="151.1" r="1.0"/><circle cx="543.7" cy="150.7" r="1.0"/><circle cx="546.6" cy="150.4" r="1.0"/><circle cx="549.6" cy="150.2" r="1.0"/><circle cx="552.5" cy="149.9" r="1.0"/><circle cx="555.4" cy="149.7" r="1.0"/><circle cx="558.4" cy="149.4" r="1.0"/><circle cx="561.3" cy="149.2" r="1.0"/></g>
<path d="M540.0,140.9 L547.5,140.9 L555.1,141.5 L562.6,143.4" fill="none" stroke="#2a2ab0" stroke-width="0.8" stroke-opacity="0.5" stroke-linejoin="round"/>
<g fill="#2a2ab0" fill-opacity="0.9"><circle cx="540.0" cy="140.9" r="1.0"/><circle cx="543.8" cy="140.9" r="1.0"/><circle cx="547.5" cy="140.9" r="1.0"/><circle cx="551.3" cy="141.2" r="1.0"/><circle cx="555.1" cy="141.5" r="1.0"/><circle cx="558.9" cy="142.4" r="1.0"/><circle cx="562.6" cy="143.4" r="1.0"/></g>
<path d="M547.5,146.5 L556.4,144.7 L565.2,148.4 L571.4,149.1" fill="none" stroke="#2a2ab0" stroke-width="0.8" stroke-opacity="0.5" stroke-linejoin="round"/>
<g fill="#2a2ab0" fill-opacity="0.9"><circle cx="547.5" cy="146.5" r="1.0"/><circle cx="550.5" cy="145.9" r="1.0"/><circle cx="553.4" cy="145.3" r="1.0"/><circle cx="556.4" cy="144.7" r="1.0"/><circle cx="559.3" cy="145.9" r="1.0"/><circle cx="562.3" cy="147.2" r="1.0"/><circle cx="565.2" cy="148.4" r="1.0"/><circle cx="568.3" cy="148.8" r="1.0"/><circle cx="571.4" cy="149.1" r="1.0"/></g>
<path d="M543.7,152.9 L549.5,154.3 L558.4,155.8 L567.2,156.5 L577.4,157.0 L585.0,156.6" fill="none" stroke="#2a2ab0" stroke-width="0.8" stroke-opacity="0.5" stroke-linejoin="round"/>
<g fill="#2a2ab0" fill-opacity="0.9"><circle cx="543.7" cy="152.9" r="1.0"/><circle cx="546.6" cy="153.6" r="1.0"/><circle cx="549.5" cy="154.3" r="1.0"/><circle cx="552.5" cy="154.8" r="1.0"/><circle cx="555.4" cy="155.3" r="1.0"/><circle cx="558.4" cy="155.8" r="1.0"/><circle cx="561.3" cy="156.0" r="1.0"/><circle cx="564.3" cy="156.3" r="1.0"/><circle cx="567.2" cy="156.5" r="1.0"/><circle cx="570.6" cy="156.7" r="1.0"/><circle cx="574.0" cy="156.8" r="1.0"/><circle cx="577.4" cy="157.0" r="1.0"/><circle cx="581.2" cy="156.8" r="1.0"/><circle cx="585.0" cy="156.6" r="1.0"/></g>
<g fill="#0d0a9e" stroke="#111" stroke-width="0.6"><circle cx="493.7" cy="27.9" r="3.1"/></g>
<g fill="#0d0a9e" stroke="#111" stroke-width="0.6"><circle cx="574.2" cy="67.5" r="3.1"/></g>
<g fill="#0d0a9e" stroke="#111" stroke-width="0.6"><circle cx="599.3" cy="83.1" r="3.1"/></g>
<g fill="#0d0a9e" stroke="#111" stroke-width="0.6"><circle cx="607.7" cy="87.7" r="3.1"/></g>
<g fill="#0d0a9e" stroke="#111" stroke-width="0.6"><circle cx="616.2" cy="104.0" r="3.1"/></g>
<g fill="#0d0a9e" stroke="#111" stroke-width="0.6"><circle cx="574.1" cy="131.9" r="3.1"/></g>
<g fill="#0d0a9e" stroke="#111" stroke-width="0.6"><circle cx="599.2" cy="148.3" r="3.1"/></g>
<g fill="#0d0a9e" stroke="#111" stroke-width="0.6"><circle cx="632.9" cy="182.8" r="3.1"/></g>
<g fill="#0d0a9e" stroke="#111" stroke-width="0.6"><circle cx="645.6" cy="182.8" r="3.1"/></g>
<g fill="#b42424" stroke="#111" stroke-width="0.6"><circle cx="498.8" cy="65.4" r="3.1"/></g>
<g fill="#b42424" stroke="#111" stroke-width="0.6"><circle cx="574.1" cy="83.4" r="3.1"/></g>
<g fill="#b42424" stroke="#111" stroke-width="0.6"><circle cx="599.3" cy="93.4" r="3.1"/></g>
<g fill="#b42424" stroke="#111" stroke-width="0.6"><circle cx="574.1" cy="143.3" r="3.1"/></g>
<g fill="#b42424" stroke="#111" stroke-width="0.6"><circle cx="599.2" cy="154.1" r="3.1"/></g>
<g fill="#b42424" stroke="#111" stroke-width="0.6"><circle cx="607.6" cy="155.8" r="3.1"/></g>
<g fill="#b42424" stroke="#111" stroke-width="0.6"><circle cx="616.0" cy="166.8" r="3.1"/></g>
<g fill="#b42424" stroke="#111" stroke-width="0.6"><circle cx="624.4" cy="164.6" r="3.1"/></g>
<g fill="#b42424" stroke="#111" stroke-width="0.6"><circle cx="624.4" cy="174.1" r="3.1"/></g>
<g fill="#b42424" stroke="#111" stroke-width="0.6"><circle cx="632.9" cy="179.9" r="3.1"/></g>
<g fill="#b42424" stroke="#111" stroke-width="0.6"><circle cx="641.2" cy="185.8" r="3.1"/></g>
<g fill="#b42424" stroke="#111" stroke-width="0.6"><circle cx="649.2" cy="182.8" r="3.1"/></g>
<g fill="#b42424" stroke="#111" stroke-width="0.6"><circle cx="649.2" cy="189.4" r="3.1"/></g>
<g fill="#b42424" stroke="#111" stroke-width="0.6"><circle cx="658.0" cy="190.1" r="3.1"/></g>
<g fill="#b42424" stroke="#111" stroke-width="0.6"><circle cx="658.0" cy="193.8" r="3.1"/></g>
<g fill="#b42424" stroke="#111" stroke-width="0.6"><circle cx="666.0" cy="189.1" r="3.1"/></g>
<g fill="#b42424" stroke="#111" stroke-width="0.6"><circle cx="666.0" cy="191.6" r="3.1"/></g>
<g fill="#b42424" stroke="#111" stroke-width="0.6"><circle cx="672.6" cy="193.1" r="3.1"/></g>
<g fill="#f47f50" stroke="#111" stroke-width="0.6"><circle cx="490.1" cy="47.5" r="3.1"/></g>
<g fill="#f47f50" stroke="#111" stroke-width="0.6"><circle cx="574.1" cy="85.5" r="3.1"/></g>
<g fill="#f47f50" stroke="#111" stroke-width="0.6"><circle cx="599.3" cy="91.3" r="3.1"/></g>
<g fill="#f47f50" stroke="#111" stroke-width="0.6"><circle cx="607.7" cy="94.8" r="3.1"/></g>
<g fill="#f47f50" stroke="#111" stroke-width="0.6"><circle cx="616.2" cy="107.4" r="3.1"/></g>
<g fill="#f47f50" stroke="#111" stroke-width="0.6"><circle cx="574.1" cy="128.0" r="3.1"/></g>
<g fill="#f47f50" stroke="#111" stroke-width="0.6"><circle cx="599.2" cy="150.4" r="3.1"/></g>
<g fill="#f47f50" stroke="#111" stroke-width="0.6"><circle cx="607.6" cy="151.4" r="3.1"/></g>
<g fill="#f47f50" stroke="#111" stroke-width="0.6"><circle cx="616.0" cy="155.5" r="3.1"/></g>
<g fill="#f47f50" stroke="#111" stroke-width="0.6"><circle cx="624.5" cy="157.7" r="3.1"/></g>
<g fill="#f47f50" stroke="#111" stroke-width="0.6"><circle cx="624.4" cy="169.0" r="3.1"/></g>
<g fill="#f47f50" stroke="#111" stroke-width="0.6"><circle cx="632.9" cy="172.6" r="3.1"/></g>
<g fill="#f47f50" stroke="#111" stroke-width="0.6"><circle cx="632.9" cy="176.3" r="3.1"/></g>
<g fill="#f47f50" stroke="#111" stroke-width="0.6"><circle cx="641.2" cy="173.1" r="3.1"/></g>
<g fill="#f47f50" stroke="#111" stroke-width="0.6"><circle cx="641.2" cy="181.4" r="3.1"/></g>
<g fill="#f47f50" stroke="#111" stroke-width="0.6"><circle cx="649.2" cy="185.8" r="3.1"/></g>
<g fill="#f47f50" stroke="#111" stroke-width="0.6"><circle cx="658.0" cy="185.0" r="3.1"/></g>
<rect x="482.20" y="12.30" width="200.5" height="184.1" fill="none" stroke="#6a6a6a" stroke-width="1"/>
<line x1="482.20" y1="196.40" x2="482.20" y2="198.90" stroke="#6a6a6a" stroke-width="0.8"/>
<text x="477.22" y="205.90" font-size="7.83" fill="#262626" textLength="9.95" lengthAdjust="spacingAndGlyphs" stroke="#262626" stroke-width="0.15" stroke-opacity="0.7" >−4</text>
<line x1="515.62" y1="196.40" x2="515.62" y2="198.90" stroke="#6a6a6a" stroke-width="0.8"/>
<text x="510.64" y="205.90" font-size="7.83" fill="#262626" textLength="9.95" lengthAdjust="spacingAndGlyphs" stroke="#262626" stroke-width="0.15" stroke-opacity="0.7" >−3</text>
<line x1="549.03" y1="196.40" x2="549.03" y2="198.90" stroke="#6a6a6a" stroke-width="0.8"/>
<text x="544.06" y="205.90" font-size="7.83" fill="#262626" textLength="9.95" lengthAdjust="spacingAndGlyphs" stroke="#262626" stroke-width="0.15" stroke-opacity="0.7" >−2</text>
<line x1="582.45" y1="196.40" x2="582.45" y2="198.90" stroke="#6a6a6a" stroke-width="0.8"/>
<text x="577.47" y="205.90" font-size="7.83" fill="#262626" textLength="9.95" lengthAdjust="spacingAndGlyphs" stroke="#262626" stroke-width="0.15" stroke-opacity="0.7" >−1</text>
<line x1="615.87" y1="196.40" x2="615.87" y2="198.90" stroke="#6a6a6a" stroke-width="0.8"/>
<text x="613.72" y="205.90" font-size="7.83" fill="#262626" textLength="4.29" lengthAdjust="spacingAndGlyphs" stroke="#262626" stroke-width="0.15" stroke-opacity="0.7" >0</text>
<line x1="649.28" y1="196.40" x2="649.28" y2="198.90" stroke="#6a6a6a" stroke-width="0.8"/>
<text x="647.14" y="205.90" font-size="7.83" fill="#262626" textLength="4.29" lengthAdjust="spacingAndGlyphs" stroke="#262626" stroke-width="0.15" stroke-opacity="0.7" >1</text>
<line x1="682.70" y1="196.40" x2="682.70" y2="198.90" stroke="#6a6a6a" stroke-width="0.8"/>
<text x="680.55" y="205.90" font-size="7.83" fill="#262626" textLength="4.29" lengthAdjust="spacingAndGlyphs" stroke="#262626" stroke-width="0.15" stroke-opacity="0.7" >2</text>
<line x1="479.70" y1="187.19" x2="482.20" y2="187.19" stroke="#6a6a6a" stroke-width="0.8"/>
<line x1="479.70" y1="168.78" x2="482.20" y2="168.78" stroke="#6a6a6a" stroke-width="0.8"/>
<line x1="479.70" y1="150.38" x2="482.20" y2="150.38" stroke="#6a6a6a" stroke-width="0.8"/>
<line x1="479.70" y1="131.97" x2="482.20" y2="131.97" stroke="#6a6a6a" stroke-width="0.8"/>
<line x1="479.70" y1="113.56" x2="482.20" y2="113.56" stroke="#6a6a6a" stroke-width="0.8"/>
<line x1="479.70" y1="95.14" x2="482.20" y2="95.14" stroke="#6a6a6a" stroke-width="0.8"/>
<line x1="479.70" y1="76.73" x2="482.20" y2="76.73" stroke="#6a6a6a" stroke-width="0.8"/>
<line x1="479.70" y1="58.33" x2="482.20" y2="58.33" stroke="#6a6a6a" stroke-width="0.8"/>
<line x1="479.70" y1="39.91" x2="482.20" y2="39.91" stroke="#6a6a6a" stroke-width="0.8"/>
<line x1="479.70" y1="21.51" x2="482.20" y2="21.51" stroke="#6a6a6a" stroke-width="0.8"/>
<text x="516.61" y="214.90" font-size="7.83" fill="#262626" textLength="131.69" lengthAdjust="spacingAndGlyphs" stroke="#262626" stroke-width="0.15" stroke-opacity="0.7" >Deep ocean temperature anomaly [°C]</text>
<text x="482.50" y="6.60" font-size="9.16" fill="#1a1a1a" textLength="11.90" lengthAdjust="spacingAndGlyphs" font-weight="bold" >(c)</text>
<text x="499.30" y="6.60" font-size="9.16" fill="#1a1a1a" textLength="111.43" lengthAdjust="spacingAndGlyphs" stroke="#1a1a1a" stroke-width="0.15" stroke-opacity="0.7" >Run B: Full hysteresis cycles</text>
<rect x="485.40" y="161.20" width="59.2" height="31.8" rx="1.5" fill="#e6e7ef"/>
<circle cx="495.20" cy="167.10" r="3.1" fill="#f47f50" stroke="#111" stroke-width="0.6"/>
<text x="507.80" y="169.30" font-size="7.83" fill="#262626" textLength="25.27" lengthAdjust="spacingAndGlyphs" stroke="#262626" stroke-width="0.15" stroke-opacity="0.7" >MIS 6-5</text>
<circle cx="495.20" cy="177.10" r="3.1" fill="#b42424" stroke="#111" stroke-width="0.6"/>
<text x="507.80" y="179.30" font-size="7.83" fill="#262626" textLength="29.56" lengthAdjust="spacingAndGlyphs" stroke="#262626" stroke-width="0.15" stroke-opacity="0.7" >MIS 10-9</text>
<circle cx="495.20" cy="187.10" r="3.1" fill="#0d0a9e" stroke="#111" stroke-width="0.6"/>
<text x="507.80" y="189.30" font-size="7.83" fill="#262626" textLength="33.86" lengthAdjust="spacingAndGlyphs" stroke="#262626" stroke-width="0.15" stroke-opacity="0.7" >MIS 12-11</text>
<rect x="21.10" y="242.30" width="83.54" height="184.1" fill="#eef0fc"/>
<rect x="113.00" y="242.30" width="41.77" height="184.1" fill="#f8eefa"/>
<rect x="163.12" y="242.30" width="58.48" height="184.1" fill="#fbf0f0"/>
<rect x="104.34" y="242.30" width="9.05" height="184.1" fill="#cbcbcb"/>
<rect x="154.47" y="242.30" width="9.05" height="184.1" fill="#cbcbcb"/>
<text x="24.30" y="251.00" font-size="7.83" fill="#2c2cae" textLength="51.39" lengthAdjust="spacingAndGlyphs" stroke="#2c2cae" stroke-width="0.15" stroke-opacity="0.7" >Glaciated WAIS</text>
<text x="114.15" y="250.90" font-size="7.83" fill="#9430ae" textLength="39.46" lengthAdjust="spacingAndGlyphs" stroke="#9430ae" stroke-width="0.15" stroke-opacity="0.7" >Glaciated &amp;</text>
<text x="118.17" y="258.10" font-size="7.83" fill="#9430ae" textLength="31.43" lengthAdjust="spacingAndGlyphs" stroke="#9430ae" stroke-width="0.15" stroke-opacity="0.7" >retreated</text>
<text x="125.28" y="265.40" font-size="7.83" fill="#9430ae" textLength="17.20" lengthAdjust="spacingAndGlyphs" stroke="#9430ae" stroke-width="0.15" stroke-opacity="0.7" >WAIS</text>
<text x="165.87" y="251.00" font-size="7.83" fill="#a02828" textLength="52.53" lengthAdjust="spacingAndGlyphs" stroke="#a02828" stroke-width="0.15" stroke-opacity="0.7" >Retreated WAIS</text>
<text transform="translate(110.62,424.50) rotate(-90)" x="0.00" y="0" font-size="7.83" fill="#333333" textLength="93.92" lengthAdjust="spacingAndGlyphs" stroke="#333333" stroke-width="0.15" stroke-opacity="0.7" >WAIS recovery tipping point</text>
<text transform="translate(160.84,351.40) rotate(-90)" x="0.00" y="0" font-size="7.83" fill="#333333" textLength="105.77" lengthAdjust="spacingAndGlyphs" stroke="#333333" stroke-width="0.15" stroke-opacity="0.7" >WAIS deglaciation tipping point</text>
<path d="M41.1,301.3 L41.8,300.5 L43.1,299.7 L44.5,298.9 L45.5,298.1 L45.6,297.3 L44.8,296.5 L43.4,295.7 L42.0,294.9 L41.2,294.1 L41.3,293.3 L42.2,292.5 L43.6,291.7 L45.0,290.9 L45.7,290.1 L45.4,289.3 L44.4,288.5" fill="none" stroke="#1a1aff" stroke-width="0.8" stroke-opacity="0.5" stroke-linejoin="round"/>
<g fill="#1a1aff" fill-opacity="0.9"><circle cx="41.1" cy="301.3" r="1.0"/><circle cx="41.8" cy="300.5" r="1.0"/><circle cx="43.1" cy="299.7" r="1.0"/><circle cx="44.5" cy="298.9" r="1.0"/><circle cx="45.5" cy="298.1" r="1.0"/><circle cx="45.6" cy="297.3" r="1.0"/><circle cx="44.8" cy="296.5" r="1.0"/><circle cx="43.4" cy="295.7" r="1.0"/><circle cx="42.0" cy="294.9" r="1.0"/><circle cx="41.2" cy="294.1" r="1.0"/><circle cx="41.3" cy="293.3" r="1.0"/><circle cx="42.2" cy="292.5" r="1.0"/><circle cx="43.6" cy="291.7" r="1.0"/><circle cx="45.0" cy="290.9" r="1.0"/><circle cx="45.7" cy="290.1" r="1.0"/><circle cx="45.4" cy="289.3" r="1.0"/><circle cx="44.4" cy="288.5" r="1.0"/></g>
<path d="M60.7,312.2 L58.4,310.4 L56.0,308.7 L57.2,305.2 L54.9,303.4 L51.3,302.4 L47.6,302.1 L44.7,301.7 L41.0,301.3" fill="none" stroke="#1a1aff" stroke-width="0.8" stroke-opacity="0.5" stroke-linejoin="round"/>
<g fill="#1a1aff" fill-opacity="0.9"><circle cx="60.7" cy="312.2" r="1.0"/><circle cx="58.4" cy="310.4" r="1.0"/><circle cx="56.0" cy="308.7" r="1.0"/><circle cx="57.2" cy="305.2" r="1.0"/><circle cx="54.9" cy="303.4" r="1.0"/><circle cx="51.3" cy="302.4" r="1.0"/><circle cx="47.6" cy="302.1" r="1.0"/><circle cx="44.7" cy="301.7" r="1.0"/><circle cx="41.0" cy="301.3" r="1.0"/></g>
<path d="M42.1,288.1 L43.2,287.9 L47.3,286.8 L53.1,286.3 L61.3,285.6 L71.5,285.6 L81.7,285.6 L92.2,285.6 L101.0,285.6 L113.4,286.5 L121.5,288.3 L123.9,290.0 L125.0,294.7 L127.4,298.8 L130.9,300.5 L133.8,302.9 L135.5,310.2 L139.0,313.7 L143.7,316.0 L147.2,318.4 L146.1,320.7 L141.4,321.3 L133.0,321.5 L124.0,321.2 L115.0,320.8 L106.0,320.2 L97.0,319.5 L88.0,318.6 L79.0,317.8 L70.0,317.2 L60.0,316.6 L50.0,316.6 L40.0,317.0 L31.0,317.4" fill="none" stroke="#1a1aff" stroke-width="0.8" stroke-opacity="0.5" stroke-linejoin="round"/>
<g fill="#1a1aff" fill-opacity="0.9"><circle cx="42.1" cy="288.1" r="1.0"/><circle cx="43.2" cy="287.9" r="1.0"/><circle cx="47.3" cy="286.8" r="1.0"/><circle cx="53.1" cy="286.3" r="1.0"/><circle cx="61.3" cy="285.6" r="1.0"/><circle cx="71.5" cy="285.6" r="1.0"/><circle cx="81.7" cy="285.6" r="1.0"/><circle cx="87.0" cy="285.6" r="1.0"/><circle cx="92.2" cy="285.6" r="1.0"/><circle cx="101.0" cy="285.6" r="1.0"/><circle cx="107.2" cy="286.1" r="1.0"/><circle cx="113.4" cy="286.5" r="1.0"/><circle cx="121.5" cy="288.3" r="1.0"/><circle cx="123.9" cy="290.0" r="1.0"/><circle cx="125.0" cy="294.7" r="1.0"/><circle cx="127.4" cy="298.8" r="1.0"/><circle cx="130.9" cy="300.5" r="1.0"/><circle cx="133.8" cy="302.9" r="1.0"/><circle cx="135.5" cy="310.2" r="1.0"/><circle cx="139.0" cy="313.7" r="1.0"/><circle cx="143.7" cy="316.0" r="1.0"/><circle cx="147.2" cy="318.4" r="1.0"/><circle cx="146.1" cy="320.7" r="1.0"/><circle cx="141.4" cy="321.3" r="1.0"/><circle cx="133.0" cy="321.5" r="1.0"/><circle cx="124.0" cy="321.2" r="1.0"/><circle cx="115.0" cy="320.8" r="1.0"/><circle cx="106.0" cy="320.2" r="1.0"/><circle cx="97.0" cy="319.5" r="1.0"/><circle cx="88.0" cy="318.6" r="1.0"/><circle cx="79.0" cy="317.8" r="1.0"/><circle cx="70.0" cy="317.2" r="1.0"/><circle cx="60.0" cy="316.6" r="1.0"/><circle cx="50.0" cy="316.6" r="1.0"/><circle cx="40.0" cy="317.0" r="1.0"/><circle cx="31.0" cy="317.4" r="1.0"/></g>
<path d="M30.9,316.6 L39.7,315.1 L46.7,314.5 L56.0,313.9 L65.4,313.9 L74.7,313.9 L82.9,314.3 L91.1,314.5 L98.1,315.1 L106.0,316.0 L115.0,317.2 L124.0,318.5 L133.0,319.8 L140.0,321.5 L146.0,323.5" fill="none" stroke="#1a1aff" stroke-width="0.8" stroke-opacity="0.5" stroke-linejoin="round"/>
<g fill="#1a1aff" fill-opacity="0.9"><circle cx="30.9" cy="316.6" r="1.0"/><circle cx="39.7" cy="315.1" r="1.0"/><circle cx="46.7" cy="314.5" r="1.0"/><circle cx="56.0" cy="313.9" r="1.0"/><circle cx="65.4" cy="313.9" r="1.0"/><circle cx="74.7" cy="313.9" r="1.0"/><circle cx="82.9" cy="314.3" r="1.0"/><circle cx="91.1" cy="314.5" r="1.0"/><circle cx="98.1" cy="315.1" r="1.0"/><circle cx="106.0" cy="316.0" r="1.0"/><circle cx="115.0" cy="317.2" r="1.0"/><circle cx="124.0" cy="318.5" r="1.0"/><circle cx="133.0" cy="319.8" r="1.0"/><circle cx="140.0" cy="321.5" r="1.0"/><circle cx="146.0" cy="323.5" r="1.0"/></g>
<path d="M31.0,317.8 L40.0,318.6 L50.0,319.2 L60.0,319.8 L70.0,320.4 L80.0,321.0 L90.0,321.8 L100.0,322.6 L110.0,323.4 L120.0,324.0 L130.0,324.6 L140.0,325.4 L146.0,326.5" fill="none" stroke="#1a1aff" stroke-width="0.8" stroke-opacity="0.5" stroke-linejoin="round"/>
<g fill="#1a1aff" fill-opacity="0.9"><circle cx="31.0" cy="317.8" r="1.0"/><circle cx="40.0" cy="318.6" r="1.0"/><circle cx="50.0" cy="319.2" r="1.0"/><circle cx="60.0" cy="319.8" r="1.0"/><circle cx="70.0" cy="320.4" r="1.0"/><circle cx="80.0" cy="321.0" r="1.0"/><circle cx="90.0" cy="321.8" r="1.0"/><circle cx="100.0" cy="322.6" r="1.0"/><circle cx="110.0" cy="323.4" r="1.0"/><circle cx="120.0" cy="324.0" r="1.0"/><circle cx="130.0" cy="324.6" r="1.0"/><circle cx="140.0" cy="325.4" r="1.0"/><circle cx="146.0" cy="326.5" r="1.0"/></g>
<path d="M35.0,318.5 L45.0,320.5 L55.0,321.5 L65.0,322.3 L75.0,322.6 L85.0,323.0 L95.0,323.6 L105.0,324.4 L115.0,325.2 L125.0,325.6 L135.0,326.2 L143.0,327.0" fill="none" stroke="#1a1aff" stroke-width="0.8" stroke-opacity="0.5" stroke-linejoin="round"/>
<g fill="#1a1aff" fill-opacity="0.9"><circle cx="35.0" cy="318.5" r="1.0"/><circle cx="45.0" cy="320.5" r="1.0"/><circle cx="55.0" cy="321.5" r="1.0"/><circle cx="65.0" cy="322.3" r="1.0"/><circle cx="75.0" cy="322.6" r="1.0"/><circle cx="85.0" cy="323.0" r="1.0"/><circle cx="95.0" cy="323.6" r="1.0"/><circle cx="105.0" cy="324.4" r="1.0"/><circle cx="115.0" cy="325.2" r="1.0"/><circle cx="125.0" cy="325.6" r="1.0"/><circle cx="135.0" cy="326.2" r="1.0"/><circle cx="143.0" cy="327.0" r="1.0"/></g>
<g fill="#0000ff" stroke="#111" stroke-width="0.6"><circle cx="71.2" cy="270.2" r="3.1"/><circle cx="79.4" cy="272.5" r="3.1"/><circle cx="87.8" cy="274.9" r="3.1"/><circle cx="96.1" cy="280.5" r="3.1"/><circle cx="104.6" cy="284.8" r="3.1"/><circle cx="112.8" cy="286.8" r="3.1"/><circle cx="62.8" cy="297.0" r="3.1"/><circle cx="54.3" cy="299.6" r="3.1"/><circle cx="71.2" cy="304.8" r="3.1"/><circle cx="79.4" cy="306.6" r="3.1"/><circle cx="87.8" cy="307.8" r="3.1"/><circle cx="96.1" cy="310.4" r="3.1"/><circle cx="62.8" cy="308.7" r="3.1"/><circle cx="54.3" cy="313.7" r="3.1"/><circle cx="28.2" cy="316.3" r="3.1"/><circle cx="48.8" cy="320.6" r="3.1"/><circle cx="54.3" cy="323.3" r="3.1"/><circle cx="62.8" cy="320.4" r="3.1"/><circle cx="71.2" cy="320.4" r="3.1"/><circle cx="79.4" cy="320.1" r="3.1"/><circle cx="87.8" cy="320.6" r="3.1"/><circle cx="96.1" cy="320.4" r="3.1"/><circle cx="71.2" cy="325.6" r="3.1"/><circle cx="71.2" cy="329.1" r="3.1"/><circle cx="79.4" cy="328.0" r="3.1"/><circle cx="87.8" cy="325.0" r="3.1"/><circle cx="87.8" cy="329.7" r="3.1"/><circle cx="96.1" cy="327.6" r="3.1"/><circle cx="129.7" cy="312.8" r="3.1"/><circle cx="96.1" cy="319.8" r="3.1"/><circle cx="96.1" cy="327.9" r="3.1"/><circle cx="104.6" cy="319.5" r="3.1"/><circle cx="104.6" cy="323.6" r="3.1"/><circle cx="104.6" cy="327.7" r="3.1"/><circle cx="104.6" cy="332.6" r="3.1"/><circle cx="112.8" cy="321.3" r="3.1"/><circle cx="112.8" cy="326.0" r="3.1"/><circle cx="112.8" cy="331.8" r="3.1"/><circle cx="121.3" cy="320.9" r="3.1"/><circle cx="121.3" cy="327.7" r="3.1"/><circle cx="121.3" cy="333.5" r="3.1"/><circle cx="129.7" cy="326.5" r="3.1"/><circle cx="129.7" cy="333.8" r="3.1"/><circle cx="138.1" cy="323.0" r="3.1"/><circle cx="138.1" cy="325.6" r="3.1"/><circle cx="138.1" cy="333.5" r="3.1"/><circle cx="146.6" cy="328.3" r="3.1"/><circle cx="146.6" cy="332.4" r="3.1"/></g>
<rect x="21.10" y="242.30" width="200.5" height="184.1" fill="none" stroke="#6a6a6a" stroke-width="1"/>
<line x1="21.10" y1="426.40" x2="21.10" y2="428.90" stroke="#6a6a6a" stroke-width="0.8"/>
<text x="16.12" y="435.90" font-size="7.83" fill="#262626" textLength="9.95" lengthAdjust="spacingAndGlyphs" stroke="#262626" stroke-width="0.15" stroke-opacity="0.7" >−4</text>
<line x1="54.52" y1="426.40" x2="54.52" y2="428.90" stroke="#6a6a6a" stroke-width="0.8"/>
<text x="49.54" y="435.90" font-size="7.83" fill="#262626" textLength="9.95" lengthAdjust="spacingAndGlyphs" stroke="#262626" stroke-width="0.15" stroke-opacity="0.7" >−3</text>
<line x1="87.93" y1="426.40" x2="87.93" y2="428.90" stroke="#6a6a6a" stroke-width="0.8"/>
<text x="82.96" y="435.90" font-size="7.83" fill="#262626" textLength="9.95" lengthAdjust="spacingAndGlyphs" stroke="#262626" stroke-width="0.15" stroke-opacity="0.7" >−2</text>
<line x1="121.35" y1="426.40" x2="121.35" y2="428.90" stroke="#6a6a6a" stroke-width="0.8"/>
<text x="116.37" y="435.90" font-size="7.83" fill="#262626" textLength="9.95" lengthAdjust="spacingAndGlyphs" stroke="#262626" stroke-width="0.15" stroke-opacity="0.7" >−1</text>
<line x1="154.77" y1="426.40" x2="154.77" y2="428.90" stroke="#6a6a6a" stroke-width="0.8"/>
<text x="152.62" y="435.90" font-size="7.83" fill="#262626" textLength="4.29" lengthAdjust="spacingAndGlyphs" stroke="#262626" stroke-width="0.15" stroke-opacity="0.7" >0</text>
<line x1="188.18" y1="426.40" x2="188.18" y2="428.90" stroke="#6a6a6a" stroke-width="0.8"/>
<text x="186.04" y="435.90" font-size="7.83" fill="#262626" textLength="4.29" lengthAdjust="spacingAndGlyphs" stroke="#262626" stroke-width="0.15" stroke-opacity="0.7" >1</text>
<line x1="221.60" y1="426.40" x2="221.60" y2="428.90" stroke="#6a6a6a" stroke-width="0.8"/>
<text x="219.45" y="435.90" font-size="7.83" fill="#262626" textLength="4.29" lengthAdjust="spacingAndGlyphs" stroke="#262626" stroke-width="0.15" stroke-opacity="0.7" >2</text>
<line x1="18.60" y1="417.19" x2="21.10" y2="417.19" stroke="#6a6a6a" stroke-width="0.8"/>
<text x="6.55" y="419.59" font-size="7.83" fill="#262626" textLength="9.95" lengthAdjust="spacingAndGlyphs" stroke="#262626" stroke-width="0.15" stroke-opacity="0.7" >−8</text>
<line x1="18.60" y1="398.78" x2="21.10" y2="398.78" stroke="#6a6a6a" stroke-width="0.8"/>
<text x="6.55" y="401.18" font-size="7.83" fill="#262626" textLength="9.95" lengthAdjust="spacingAndGlyphs" stroke="#262626" stroke-width="0.15" stroke-opacity="0.7" >−6</text>
<line x1="18.60" y1="380.38" x2="21.10" y2="380.38" stroke="#6a6a6a" stroke-width="0.8"/>
<text x="6.55" y="382.77" font-size="7.83" fill="#262626" textLength="9.95" lengthAdjust="spacingAndGlyphs" stroke="#262626" stroke-width="0.15" stroke-opacity="0.7" >−4</text>
<line x1="18.60" y1="361.97" x2="21.10" y2="361.97" stroke="#6a6a6a" stroke-width="0.8"/>
<text x="6.55" y="364.37" font-size="7.83" fill="#262626" textLength="9.95" lengthAdjust="spacingAndGlyphs" stroke="#262626" stroke-width="0.15" stroke-opacity="0.7" >−2</text>
<line x1="18.60" y1="343.56" x2="21.10" y2="343.56" stroke="#6a6a6a" stroke-width="0.8"/>
<text x="12.21" y="345.95" font-size="7.83" fill="#262626" textLength="4.29" lengthAdjust="spacingAndGlyphs" stroke="#262626" stroke-width="0.15" stroke-opacity="0.7" >0</text>
<line x1="18.60" y1="325.14" x2="21.10" y2="325.14" stroke="#6a6a6a" stroke-width="0.8"/>
<text x="12.21" y="327.54" font-size="7.83" fill="#262626" textLength="4.29" lengthAdjust="spacingAndGlyphs" stroke="#262626" stroke-width="0.15" stroke-opacity="0.7" >2</text>
<line x1="18.60" y1="306.74" x2="21.10" y2="306.74" stroke="#6a6a6a" stroke-width="0.8"/>
<text x="12.21" y="309.13" font-size="7.83" fill="#262626" textLength="4.29" lengthAdjust="spacingAndGlyphs" stroke="#262626" stroke-width="0.15" stroke-opacity="0.7" >4</text>
<line x1="18.60" y1="288.32" x2="21.10" y2="288.32" stroke="#6a6a6a" stroke-width="0.8"/>
<text x="12.21" y="290.72" font-size="7.83" fill="#262626" textLength="4.29" lengthAdjust="spacingAndGlyphs" stroke="#262626" stroke-width="0.15" stroke-opacity="0.7" >6</text>
<line x1="18.60" y1="269.92" x2="21.10" y2="269.92" stroke="#6a6a6a" stroke-width="0.8"/>
<text x="12.21" y="272.31" font-size="7.83" fill="#262626" textLength="4.29" lengthAdjust="spacingAndGlyphs" stroke="#262626" stroke-width="0.15" stroke-opacity="0.7" >8</text>
<line x1="18.60" y1="251.51" x2="21.10" y2="251.51" stroke="#6a6a6a" stroke-width="0.8"/>
<text x="7.91" y="253.91" font-size="7.83" fill="#262626" textLength="8.59" lengthAdjust="spacingAndGlyphs" stroke="#262626" stroke-width="0.15" stroke-opacity="0.7" >10</text>
<text x="55.51" y="444.90" font-size="7.83" fill="#262626" textLength="131.69" lengthAdjust="spacingAndGlyphs" stroke="#262626" stroke-width="0.15" stroke-opacity="0.7" >Deep ocean temperature anomaly [°C]</text>
<text x="21.40" y="236.60" font-size="9.16" fill="#1a1a1a" textLength="12.88" lengthAdjust="spacingAndGlyphs" font-weight="bold" >(d)</text>
<text x="38.20" y="236.60" font-size="9.16" fill="#1a1a1a" textLength="178.88" lengthAdjust="spacingAndGlyphs" stroke="#1a1a1a" stroke-width="0.15" stroke-opacity="0.7" >Run C: Deglaciation tipping point not crossed</text>
<rect x="24.30" y="411.20" width="59" height="11.8" rx="1.5" fill="#e6e7ef"/>
<circle cx="34.10" cy="417.10" r="3.1" fill="#0000ff" stroke="#111" stroke-width="0.6"/>
<text x="46.70" y="419.30" font-size="7.83" fill="#262626" textLength="33.86" lengthAdjust="spacingAndGlyphs" stroke="#262626" stroke-width="0.15" stroke-opacity="0.7" >MIS 16-13</text>
<rect x="251.60" y="242.30" width="83.54" height="184.1" fill="#eef0fc"/>
<rect x="343.50" y="242.30" width="41.77" height="184.1" fill="#f8eefa"/>
<rect x="393.62" y="242.30" width="58.48" height="184.1" fill="#fbf0f0"/>
<rect x="334.84" y="242.30" width="9.05" height="184.1" fill="#cbcbcb"/>
<rect x="384.97" y="242.30" width="9.05" height="184.1" fill="#cbcbcb"/>
<text x="254.80" y="251.00" font-size="7.83" fill="#2c2cae" textLength="51.39" lengthAdjust="spacingAndGlyphs" stroke="#2c2cae" stroke-width="0.15" stroke-opacity="0.7" >Glaciated WAIS</text>
<text x="344.65" y="250.90" font-size="7.83" fill="#9430ae" textLength="39.46" lengthAdjust="spacingAndGlyphs" stroke="#9430ae" stroke-width="0.15" stroke-opacity="0.7" >Glaciated &amp;</text>
<text x="348.67" y="258.10" font-size="7.83" fill="#9430ae" textLength="31.43" lengthAdjust="spacingAndGlyphs" stroke="#9430ae" stroke-width="0.15" stroke-opacity="0.7" >retreated</text>
<text x="355.78" y="265.40" font-size="7.83" fill="#9430ae" textLength="17.20" lengthAdjust="spacingAndGlyphs" stroke="#9430ae" stroke-width="0.15" stroke-opacity="0.7" >WAIS</text>
<text x="396.37" y="251.00" font-size="7.83" fill="#a02828" textLength="52.53" lengthAdjust="spacingAndGlyphs" stroke="#a02828" stroke-width="0.15" stroke-opacity="0.7" >Retreated WAIS</text>
<path d="M270.3,320.1 L266.2,320.5 L262.1,320.9 L255.7,320.7 L259.8,318.9 L262.7,316.6 L266.2,314.3 L270.9,313.1 L278.4,311.6 L289.5,309.6 L301.2,308.4 L310.6,307.3 L320.0,306.8 L330.8,306.5 L339.0,306.5 L347.2,307.1 L347.2,308.9 L355.4,309.1 L363.5,309.1 L371.7,309.1 L383.4,310.6 L389.2,314.1 L392.2,318.8 L392.9,321.6 L390.7,328.1 L386.3,334.0 L383.4,338.4 L385.6,342.0" fill="none" stroke="#f0a830" stroke-width="0.8" stroke-opacity="0.45" stroke-linejoin="round"/>
<g fill="#f0a830" fill-opacity="0.8"><circle cx="270.3" cy="320.1" r="1.0"/><circle cx="266.2" cy="320.5" r="1.0"/><circle cx="262.1" cy="320.9" r="1.0"/><circle cx="255.7" cy="320.7" r="1.0"/><circle cx="259.8" cy="318.9" r="1.0"/><circle cx="262.7" cy="316.6" r="1.0"/><circle cx="266.2" cy="314.3" r="1.0"/><circle cx="270.9" cy="313.1" r="1.0"/><circle cx="274.6" cy="312.4" r="1.0"/><circle cx="278.4" cy="311.6" r="1.0"/><circle cx="283.9" cy="310.6" r="1.0"/><circle cx="289.5" cy="309.6" r="1.0"/><circle cx="295.4" cy="309.0" r="1.0"/><circle cx="301.2" cy="308.4" r="1.0"/><circle cx="305.9" cy="307.9" r="1.0"/><circle cx="310.6" cy="307.3" r="1.0"/><circle cx="315.3" cy="307.1" r="1.0"/><circle cx="320.0" cy="306.8" r="1.0"/><circle cx="325.4" cy="306.6" r="1.0"/><circle cx="330.8" cy="306.5" r="1.0"/><circle cx="334.9" cy="306.5" r="1.0"/><circle cx="339.0" cy="306.5" r="1.0"/><circle cx="343.1" cy="306.8" r="1.0"/><circle cx="347.2" cy="307.1" r="1.0"/><circle cx="347.2" cy="308.9" r="1.0"/><circle cx="351.3" cy="309.0" r="1.0"/><circle cx="355.4" cy="309.1" r="1.0"/><circle cx="359.4" cy="309.1" r="1.0"/><circle cx="363.5" cy="309.1" r="1.0"/><circle cx="367.6" cy="309.1" r="1.0"/><circle cx="371.7" cy="309.1" r="1.0"/><circle cx="377.5" cy="309.9" r="1.0"/><circle cx="383.4" cy="310.6" r="1.0"/><circle cx="389.2" cy="314.1" r="1.0"/><circle cx="392.2" cy="318.8" r="1.0"/><circle cx="392.9" cy="321.6" r="1.0"/><circle cx="390.7" cy="328.1" r="1.0"/><circle cx="386.3" cy="334.0" r="1.0"/><circle cx="383.4" cy="338.4" r="1.0"/><circle cx="385.6" cy="342.0" r="1.0"/></g>
<path d="M290.0,322.2 L293.5,319.3 L299.4,318.1 L307.6,317.9 L315.7,317.8 L326.2,317.8 L335.0,317.8 L339.6,317.2 L354.2,317.2 L368.8,317.9 L383.4,319.4 L396.5,321.6 L405.3,325.2 L410.4,329.6 L410.4,334.0 L405.3,338.4 L398.0,340.5 L390.7,342.0 L385.6,342.5" fill="none" stroke="#8a2a9a" stroke-width="0.8" stroke-opacity="0.5" stroke-linejoin="round"/>
<g fill="#8a2a9a" fill-opacity="0.9"><circle cx="290.0" cy="322.2" r="1.0"/><circle cx="293.5" cy="319.3" r="1.0"/><circle cx="299.4" cy="318.1" r="1.0"/><circle cx="303.5" cy="318.0" r="1.0"/><circle cx="307.6" cy="317.9" r="1.0"/><circle cx="311.6" cy="317.9" r="1.0"/><circle cx="315.7" cy="317.8" r="1.0"/><circle cx="320.9" cy="317.8" r="1.0"/><circle cx="326.2" cy="317.8" r="1.0"/><circle cx="330.6" cy="317.8" r="1.0"/><circle cx="335.0" cy="317.8" r="1.0"/><circle cx="339.6" cy="317.2" r="1.0"/><circle cx="344.5" cy="317.2" r="1.0"/><circle cx="349.3" cy="317.2" r="1.0"/><circle cx="354.2" cy="317.2" r="1.0"/><circle cx="359.1" cy="317.4" r="1.0"/><circle cx="363.9" cy="317.7" r="1.0"/><circle cx="368.8" cy="317.9" r="1.0"/><circle cx="373.7" cy="318.4" r="1.0"/><circle cx="378.5" cy="318.9" r="1.0"/><circle cx="383.4" cy="319.4" r="1.0"/><circle cx="387.8" cy="320.1" r="1.0"/><circle cx="392.1" cy="320.9" r="1.0"/><circle cx="396.5" cy="321.6" r="1.0"/><circle cx="400.9" cy="323.4" r="1.0"/><circle cx="405.3" cy="325.2" r="1.0"/><circle cx="410.4" cy="329.6" r="1.0"/><circle cx="410.4" cy="334.0" r="1.0"/><circle cx="405.3" cy="338.4" r="1.0"/><circle cx="401.6" cy="339.4" r="1.0"/><circle cx="398.0" cy="340.5" r="1.0"/><circle cx="394.4" cy="341.2" r="1.0"/><circle cx="390.7" cy="342.0" r="1.0"/><circle cx="385.6" cy="342.5" r="1.0"/></g>
<path d="M292.4,320.4 L297.0,322.8 L301.7,325.1 L298.0,326.5 L292.4,328.0 L285.4,327.8 L279.5,328.6 L272.5,330.6 L267.8,331.5 L273.7,334.5 L278.4,336.2 L284.2,337.1 L292.4,337.4 L299.4,338.0 L305.2,338.5 L313.4,338.5 L325.0,341.5 L339.6,341.3 L354.2,341.0 L368.8,341.3 L379.0,342.0" fill="none" stroke="#8a2a9a" stroke-width="0.8" stroke-opacity="0.5" stroke-linejoin="round"/>
<g fill="#8a2a9a" fill-opacity="0.9"><circle cx="292.4" cy="320.4" r="1.0"/><circle cx="297.0" cy="322.8" r="1.0"/><circle cx="301.7" cy="325.1" r="1.0"/><circle cx="298.0" cy="326.5" r="1.0"/><circle cx="292.4" cy="328.0" r="1.0"/><circle cx="288.9" cy="327.9" r="1.0"/><circle cx="285.4" cy="327.8" r="1.0"/><circle cx="279.5" cy="328.6" r="1.0"/><circle cx="276.0" cy="329.6" r="1.0"/><circle cx="272.5" cy="330.6" r="1.0"/><circle cx="267.8" cy="331.5" r="1.0"/><circle cx="273.7" cy="334.5" r="1.0"/><circle cx="278.4" cy="336.2" r="1.0"/><circle cx="284.2" cy="337.1" r="1.0"/><circle cx="288.3" cy="337.2" r="1.0"/><circle cx="292.4" cy="337.4" r="1.0"/><circle cx="295.9" cy="337.7" r="1.0"/><circle cx="299.4" cy="338.0" r="1.0"/><circle cx="305.2" cy="338.5" r="1.0"/><circle cx="309.3" cy="338.5" r="1.0"/><circle cx="313.4" cy="338.5" r="1.0"/><circle cx="317.3" cy="339.5" r="1.0"/><circle cx="321.1" cy="340.5" r="1.0"/><circle cx="325.0" cy="341.5" r="1.0"/><circle cx="329.9" cy="341.4" r="1.0"/><circle cx="334.7" cy="341.4" r="1.0"/><circle cx="339.6" cy="341.3" r="1.0"/><circle cx="344.5" cy="341.2" r="1.0"/><circle cx="349.3" cy="341.1" r="1.0"/><circle cx="354.2" cy="341.0" r="1.0"/><circle cx="359.1" cy="341.1" r="1.0"/><circle cx="363.9" cy="341.2" r="1.0"/><circle cx="368.8" cy="341.3" r="1.0"/><circle cx="373.9" cy="341.6" r="1.0"/><circle cx="379.0" cy="342.0" r="1.0"/></g>
<path d="M285.4,332.7 L292.4,333.3 L301.7,333.3 L308.7,333.9 L318.1,333.3 L325.1,332.7 L339.6,333.2 L354.2,333.7 L368.8,334.5" fill="none" stroke="#8a2a9a" stroke-width="0.8" stroke-opacity="0.5" stroke-linejoin="round"/>
<g fill="#8a2a9a" fill-opacity="0.9"><circle cx="285.4" cy="332.7" r="1.0"/><circle cx="288.9" cy="333.0" r="1.0"/><circle cx="292.4" cy="333.3" r="1.0"/><circle cx="297.0" cy="333.3" r="1.0"/><circle cx="301.7" cy="333.3" r="1.0"/><circle cx="305.2" cy="333.6" r="1.0"/><circle cx="308.7" cy="333.9" r="1.0"/><circle cx="313.4" cy="333.6" r="1.0"/><circle cx="318.1" cy="333.3" r="1.0"/><circle cx="321.6" cy="333.0" r="1.0"/><circle cx="325.1" cy="332.7" r="1.0"/><circle cx="329.9" cy="332.9" r="1.0"/><circle cx="334.8" cy="333.0" r="1.0"/><circle cx="339.6" cy="333.2" r="1.0"/><circle cx="344.5" cy="333.4" r="1.0"/><circle cx="349.3" cy="333.5" r="1.0"/><circle cx="354.2" cy="333.7" r="1.0"/><circle cx="359.1" cy="334.0" r="1.0"/><circle cx="363.9" cy="334.2" r="1.0"/><circle cx="368.8" cy="334.5" r="1.0"/></g>
<path d="M313.0,344.4 L307.8,345.8 L302.5,347.1 L299.0,349.1 L292.0,351.0 L295.5,352.8 L300.3,353.6 L303.8,354.1 L307.3,355.8" fill="none" stroke="#8a2a9a" stroke-width="0.8" stroke-opacity="0.5" stroke-linejoin="round"/>
<g fill="#8a2a9a" fill-opacity="0.9"><circle cx="313.0" cy="344.4" r="1.0"/><circle cx="307.8" cy="345.8" r="1.0"/><circle cx="302.5" cy="347.1" r="1.0"/><circle cx="299.0" cy="349.1" r="1.0"/><circle cx="295.5" cy="350.1" r="1.0"/><circle cx="292.0" cy="351.0" r="1.0"/><circle cx="295.5" cy="352.8" r="1.0"/><circle cx="300.3" cy="353.6" r="1.0"/><circle cx="303.8" cy="354.1" r="1.0"/><circle cx="307.3" cy="355.8" r="1.0"/></g>
<path d="M302.5,347.1 L306.0,348.4 L309.5,348.2 L311.1,345.5 L318.1,344.4 L325.1,343.8 L335.0,343.0" fill="none" stroke="#8a2a9a" stroke-width="0.8" stroke-opacity="0.5" stroke-linejoin="round"/>
<g fill="#8a2a9a" fill-opacity="0.9"><circle cx="302.5" cy="347.1" r="1.0"/><circle cx="306.0" cy="348.4" r="1.0"/><circle cx="309.5" cy="348.2" r="1.0"/><circle cx="311.1" cy="345.5" r="1.0"/><circle cx="314.6" cy="344.9" r="1.0"/><circle cx="318.1" cy="344.4" r="1.0"/><circle cx="321.6" cy="344.1" r="1.0"/><circle cx="325.1" cy="343.8" r="1.0"/><circle cx="330.1" cy="343.4" r="1.0"/><circle cx="335.0" cy="343.0" r="1.0"/></g>
<g fill="#f5a623" stroke="#111" stroke-width="0.6"><circle cx="285.1" cy="267.8" r="3.1"/><circle cx="293.4" cy="262.2" r="3.1"/><circle cx="301.8" cy="262.6" r="3.1"/><circle cx="310.2" cy="268.1" r="3.1"/><circle cx="318.5" cy="268.1" r="3.1"/><circle cx="326.9" cy="265.7" r="3.1"/><circle cx="335.3" cy="282.6" r="3.1"/><circle cx="343.7" cy="282.6" r="3.1"/><circle cx="351.9" cy="296.8" r="3.1"/><circle cx="360.3" cy="296.8" r="3.1"/><circle cx="368.8" cy="301.6" r="3.1"/><circle cx="377.0" cy="308.9" r="3.1"/><circle cx="256.3" cy="307.3" r="3.1"/></g>
<g fill="#7f0f8f" stroke="#111" stroke-width="0.6"><circle cx="284.9" cy="317.5" r="3.1"/><circle cx="267.9" cy="324.4" r="3.1"/><circle cx="293.4" cy="311.4" r="3.1"/><circle cx="301.8" cy="311.4" r="3.1"/><circle cx="310.2" cy="305.3" r="3.1"/><circle cx="318.5" cy="307.8" r="3.1"/><circle cx="326.9" cy="307.3" r="3.1"/><circle cx="284.9" cy="331.8" r="3.1"/><circle cx="293.4" cy="321.3" r="3.1"/><circle cx="293.4" cy="325.6" r="3.1"/><circle cx="293.4" cy="329.5" r="3.1"/><circle cx="301.8" cy="326.5" r="3.1"/><circle cx="301.8" cy="328.9" r="3.1"/><circle cx="310.2" cy="325.6" r="3.1"/><circle cx="318.5" cy="330.0" r="3.1"/><circle cx="310.2" cy="334.8" r="3.1"/><circle cx="310.2" cy="340.1" r="3.1"/><circle cx="318.3" cy="338.3" r="3.1"/><circle cx="318.3" cy="343.1" r="3.1"/><circle cx="326.6" cy="331.3" r="3.1"/><circle cx="326.6" cy="335.3" r="3.1"/><circle cx="326.6" cy="339.2" r="3.1"/><circle cx="334.9" cy="331.3" r="3.1"/><circle cx="334.9" cy="336.1" r="3.1"/><circle cx="334.9" cy="341.4" r="3.1"/><circle cx="343.4" cy="336.8" r="3.1"/><circle cx="343.4" cy="340.8" r="3.1"/><circle cx="352.0" cy="335.4" r="3.1"/><circle cx="352.0" cy="339.8" r="3.1"/><circle cx="360.0" cy="334.7" r="3.1"/><circle cx="360.0" cy="337.6" r="3.1"/><circle cx="368.8" cy="334.0" r="3.1"/><circle cx="368.8" cy="336.2" r="3.1"/><circle cx="376.8" cy="337.6" r="3.1"/><circle cx="376.8" cy="340.5" r="3.1"/><circle cx="327.1" cy="307.5" r="3.1"/><circle cx="335.3" cy="303.0" r="3.1"/><circle cx="343.7" cy="312.1" r="3.1"/><circle cx="351.9" cy="313.0" r="3.1"/><circle cx="360.3" cy="315.0" r="3.1"/><circle cx="368.8" cy="314.7" r="3.1"/><circle cx="377.0" cy="320.0" r="3.1"/><circle cx="385.6" cy="326.2" r="3.1"/><circle cx="385.6" cy="342.0" r="3.1"/><circle cx="393.7" cy="381.0" r="3.1"/><circle cx="393.7" cy="383.3" r="3.1"/><circle cx="402.1" cy="395.6" r="3.1"/><circle cx="410.8" cy="396.7" r="3.1"/><circle cx="412.4" cy="399.0" r="3.1"/><circle cx="410.5" cy="401.7" r="3.1"/></g>
<g fill="#f5a623" stroke="#111" stroke-width="0.6"><circle cx="385.6" cy="321.8" r="3.1"/><circle cx="385.6" cy="337.5" r="3.1"/><circle cx="393.7" cy="375.2" r="3.1"/><circle cx="385.6" cy="344.6" r="3.1"/></g>
<circle cx="385.5" cy="344.2" r="5.4" fill="none" stroke="#1414a0" stroke-width="2.1"/>
<text x="354.20" y="355.90" font-size="7.83" fill="#2a2aa8" textLength="49.13" lengthAdjust="spacingAndGlyphs" stroke="#2a2aa8" stroke-width="0.15" stroke-opacity="0.7" >PD transient &amp;</text>
<text x="354.20" y="363.20" font-size="7.83" fill="#2a2aa8" textLength="60.89" lengthAdjust="spacingAndGlyphs" stroke="#2a2aa8" stroke-width="0.15" stroke-opacity="0.7" >equilibrium states</text>
<rect x="251.60" y="242.30" width="200.5" height="184.1" fill="none" stroke="#6a6a6a" stroke-width="1"/>
<line x1="251.60" y1="426.40" x2="251.60" y2="428.90" stroke="#6a6a6a" stroke-width="0.8"/>
<text x="246.62" y="435.90" font-size="7.83" fill="#262626" textLength="9.95" lengthAdjust="spacingAndGlyphs" stroke="#262626" stroke-width="0.15" stroke-opacity="0.7" >−4</text>
<line x1="285.02" y1="426.40" x2="285.02" y2="428.90" stroke="#6a6a6a" stroke-width="0.8"/>
<text x="280.04" y="435.90" font-size="7.83" fill="#262626" textLength="9.95" lengthAdjust="spacingAndGlyphs" stroke="#262626" stroke-width="0.15" stroke-opacity="0.7" >−3</text>
<line x1="318.43" y1="426.40" x2="318.43" y2="428.90" stroke="#6a6a6a" stroke-width="0.8"/>
<text x="313.46" y="435.90" font-size="7.83" fill="#262626" textLength="9.95" lengthAdjust="spacingAndGlyphs" stroke="#262626" stroke-width="0.15" stroke-opacity="0.7" >−2</text>
<line x1="351.85" y1="426.40" x2="351.85" y2="428.90" stroke="#6a6a6a" stroke-width="0.8"/>
<text x="346.87" y="435.90" font-size="7.83" fill="#262626" textLength="9.95" lengthAdjust="spacingAndGlyphs" stroke="#262626" stroke-width="0.15" stroke-opacity="0.7" >−1</text>
<line x1="385.27" y1="426.40" x2="385.27" y2="428.90" stroke="#6a6a6a" stroke-width="0.8"/>
<text x="383.12" y="435.90" font-size="7.83" fill="#262626" textLength="4.29" lengthAdjust="spacingAndGlyphs" stroke="#262626" stroke-width="0.15" stroke-opacity="0.7" >0</text>
<line x1="418.68" y1="426.40" x2="418.68" y2="428.90" stroke="#6a6a6a" stroke-width="0.8"/>
<text x="416.54" y="435.90" font-size="7.83" fill="#262626" textLength="4.29" lengthAdjust="spacingAndGlyphs" stroke="#262626" stroke-width="0.15" stroke-opacity="0.7" >1</text>
<line x1="452.10" y1="426.40" x2="452.10" y2="428.90" stroke="#6a6a6a" stroke-width="0.8"/>
<text x="449.95" y="435.90" font-size="7.83" fill="#262626" textLength="4.29" lengthAdjust="spacingAndGlyphs" stroke="#262626" stroke-width="0.15" stroke-opacity="0.7" >2</text>
<line x1="249.10" y1="417.19" x2="251.60" y2="417.19" stroke="#6a6a6a" stroke-width="0.8"/>
<line x1="249.10" y1="398.78" x2="251.60" y2="398.78" stroke="#6a6a6a" stroke-width="0.8"/>
<line x1="249.10" y1="380.38" x2="251.60" y2="380.38" stroke="#6a6a6a" stroke-width="0.8"/>
<line x1="249.10" y1="361.97" x2="251.60" y2="361.97" stroke="#6a6a6a" stroke-width="0.8"/>
<line x1="249.10" y1="343.56" x2="251.60" y2="343.56" stroke="#6a6a6a" stroke-width="0.8"/>
<line x1="249.10" y1="325.14" x2="251.60" y2="325.14" stroke="#6a6a6a" stroke-width="0.8"/>
<line x1="249.10" y1="306.74" x2="251.60" y2="306.74" stroke="#6a6a6a" stroke-width="0.8"/>
<line x1="249.10" y1="288.32" x2="251.60" y2="288.32" stroke="#6a6a6a" stroke-width="0.8"/>
<line x1="249.10" y1="269.92" x2="251.60" y2="269.92" stroke="#6a6a6a" stroke-width="0.8"/>
<line x1="249.10" y1="251.51" x2="251.60" y2="251.51" stroke="#6a6a6a" stroke-width="0.8"/>
<text x="286.01" y="444.90" font-size="7.83" fill="#262626" textLength="131.69" lengthAdjust="spacingAndGlyphs" stroke="#262626" stroke-width="0.15" stroke-opacity="0.7" >Deep ocean temperature anomaly [°C]</text>
<text x="251.90" y="236.60" font-size="9.16" fill="#1a1a1a" textLength="12.58" lengthAdjust="spacingAndGlyphs" font-weight="bold" >(e)</text>
<text x="268.70" y="236.60" font-size="9.16" fill="#1a1a1a" textLength="191.75" lengthAdjust="spacingAndGlyphs" stroke="#1a1a1a" stroke-width="0.15" stroke-opacity="0.7" >Run C: Tipping point crossed briefly: "overshoot"</text>
<rect x="254.80" y="401.20" width="50.3" height="21.8" rx="1.5" fill="#e6e7ef"/>
<circle cx="264.60" cy="407.10" r="3.1" fill="#f5a623" stroke="#111" stroke-width="0.6"/>
<text x="277.20" y="409.30" font-size="7.83" fill="#262626" textLength="25.27" lengthAdjust="spacingAndGlyphs" stroke="#262626" stroke-width="0.15" stroke-opacity="0.7" >MIS 2-1</text>
<circle cx="264.60" cy="417.10" r="3.1" fill="#7f0f8f" stroke="#111" stroke-width="0.6"/>
<text x="277.20" y="419.30" font-size="7.83" fill="#262626" textLength="25.27" lengthAdjust="spacingAndGlyphs" stroke="#262626" stroke-width="0.15" stroke-opacity="0.7" >MIS 8-7</text>
<rect x="482.20" y="242.30" width="83.54" height="184.1" fill="#eef0fc"/>
<rect x="574.10" y="242.30" width="41.77" height="184.1" fill="#f8eefa"/>
<rect x="624.22" y="242.30" width="58.48" height="184.1" fill="#fbf0f0"/>
<rect x="565.44" y="242.30" width="9.05" height="184.1" fill="#cbcbcb"/>
<rect x="615.57" y="242.30" width="9.05" height="184.1" fill="#cbcbcb"/>
<text x="485.40" y="251.00" font-size="7.83" fill="#2c2cae" textLength="51.39" lengthAdjust="spacingAndGlyphs" stroke="#2c2cae" stroke-width="0.15" stroke-opacity="0.7" >Glaciated WAIS</text>
<text x="575.25" y="250.90" font-size="7.83" fill="#9430ae" textLength="39.46" lengthAdjust="spacingAndGlyphs" stroke="#9430ae" stroke-width="0.15" stroke-opacity="0.7" >Glaciated &amp;</text>
<text x="579.27" y="258.10" font-size="7.83" fill="#9430ae" textLength="31.43" lengthAdjust="spacingAndGlyphs" stroke="#9430ae" stroke-width="0.15" stroke-opacity="0.7" >retreated</text>
<text x="586.38" y="265.40" font-size="7.83" fill="#9430ae" textLength="17.20" lengthAdjust="spacingAndGlyphs" stroke="#9430ae" stroke-width="0.15" stroke-opacity="0.7" >WAIS</text>
<text x="626.97" y="251.00" font-size="7.83" fill="#a02828" textLength="52.53" lengthAdjust="spacingAndGlyphs" stroke="#a02828" stroke-width="0.15" stroke-opacity="0.7" >Retreated WAIS</text>
<path d="M489.9,317.5 L493.4,317.1 L497.8,317.5 L501.3,318.8 L503.9,320.6 L506.5,322.8 L510.0,324.5 L516.0,325.5" fill="none" stroke="#f4845a" stroke-width="0.8" stroke-opacity="0.5" stroke-linejoin="round"/>
<g fill="#f4845a" fill-opacity="0.75"><circle cx="489.9" cy="317.5" r="1.0"/><circle cx="493.4" cy="317.1" r="1.0"/><circle cx="497.8" cy="317.5" r="1.0"/><circle cx="501.3" cy="318.8" r="1.0"/><circle cx="503.9" cy="320.6" r="1.0"/><circle cx="506.5" cy="322.8" r="1.0"/><circle cx="510.0" cy="324.5" r="1.0"/><circle cx="513.0" cy="325.0" r="1.0"/><circle cx="516.0" cy="325.5" r="1.0"/></g>
<path d="M496.0,325.4 L499.5,325.8 L503.9,326.3 L508.3,326.3 L514.0,326.8" fill="none" stroke="#f4845a" stroke-width="0.8" stroke-opacity="0.5" stroke-linejoin="round"/>
<g fill="#f4845a" fill-opacity="0.75"><circle cx="496.0" cy="325.4" r="1.0"/><circle cx="499.5" cy="325.8" r="1.0"/><circle cx="503.9" cy="326.3" r="1.0"/><circle cx="508.3" cy="326.3" r="1.0"/><circle cx="511.1" cy="326.6" r="1.0"/><circle cx="514.0" cy="326.8" r="1.0"/></g>
<path d="M528.7,342.1 L534.6,343.3 L540.4,343.3 L546.2,343.9 L552.0,344.2" fill="none" stroke="#f4845a" stroke-width="0.8" stroke-opacity="0.5" stroke-linejoin="round"/>
<g fill="#f4845a" fill-opacity="0.75"><circle cx="528.7" cy="342.1" r="1.0"/><circle cx="531.7" cy="342.7" r="1.0"/><circle cx="534.6" cy="343.3" r="1.0"/><circle cx="537.5" cy="343.3" r="1.0"/><circle cx="540.4" cy="343.3" r="1.0"/><circle cx="543.3" cy="343.6" r="1.0"/><circle cx="546.2" cy="343.9" r="1.0"/><circle cx="549.1" cy="344.0" r="1.0"/><circle cx="552.0" cy="344.2" r="1.0"/></g>
<path d="M562.0,348.0 L570.2,348.6 L576.0,349.8 L580.7,350.4" fill="none" stroke="#f4845a" stroke-width="0.8" stroke-opacity="0.5" stroke-linejoin="round"/>
<g fill="#f4845a" fill-opacity="0.75"><circle cx="562.0" cy="348.0" r="1.0"/><circle cx="564.7" cy="348.2" r="1.0"/><circle cx="567.5" cy="348.4" r="1.0"/><circle cx="570.2" cy="348.6" r="1.0"/><circle cx="573.1" cy="349.2" r="1.0"/><circle cx="576.0" cy="349.8" r="1.0"/><circle cx="580.7" cy="350.4" r="1.0"/></g>
<path d="M557.3,353.9 L564.3,352.7 L570.0,351.5" fill="none" stroke="#f4845a" stroke-width="0.8" stroke-opacity="0.5" stroke-linejoin="round"/>
<g fill="#f4845a" fill-opacity="0.75"><circle cx="557.3" cy="353.9" r="1.0"/><circle cx="560.8" cy="353.3" r="1.0"/><circle cx="564.3" cy="352.7" r="1.0"/><circle cx="567.1" cy="352.1" r="1.0"/><circle cx="570.0" cy="351.5" r="1.0"/></g>
<path d="M538.1,356.4 L542.7,357.0 L545.6,359.3 L547.4,361.7 L549.7,364.0" fill="none" stroke="#f4845a" stroke-width="0.8" stroke-opacity="0.5" stroke-linejoin="round"/>
<g fill="#f4845a" fill-opacity="0.75"><circle cx="538.1" cy="356.4" r="1.0"/><circle cx="542.7" cy="357.0" r="1.0"/><circle cx="545.6" cy="359.3" r="1.0"/><circle cx="547.4" cy="361.7" r="1.0"/><circle cx="549.7" cy="364.0" r="1.0"/></g>
<path d="M546.2,354.1 L550.9,354.7 L556.7,354.1 L562.0,353.5" fill="none" stroke="#f4845a" stroke-width="0.8" stroke-opacity="0.5" stroke-linejoin="round"/>
<g fill="#f4845a" fill-opacity="0.75"><circle cx="546.2" cy="354.1" r="1.0"/><circle cx="550.9" cy="354.7" r="1.0"/><circle cx="553.8" cy="354.4" r="1.0"/><circle cx="556.7" cy="354.1" r="1.0"/><circle cx="559.4" cy="353.8" r="1.0"/><circle cx="562.0" cy="353.5" r="1.0"/></g>
<path d="M528.7,378.6 L534.6,378.6 L540.4,378.0 L546.2,377.4 L552.0,376.9 L557.9,376.3" fill="none" stroke="#f4845a" stroke-width="0.8" stroke-opacity="0.5" stroke-linejoin="round"/>
<g fill="#f4845a" fill-opacity="0.75"><circle cx="528.7" cy="378.6" r="1.0"/><circle cx="531.7" cy="378.6" r="1.0"/><circle cx="534.6" cy="378.6" r="1.0"/><circle cx="537.5" cy="378.3" r="1.0"/><circle cx="540.4" cy="378.0" r="1.0"/><circle cx="543.3" cy="377.7" r="1.0"/><circle cx="546.2" cy="377.4" r="1.0"/><circle cx="549.1" cy="377.1" r="1.0"/><circle cx="552.0" cy="376.9" r="1.0"/><circle cx="555.0" cy="376.6" r="1.0"/><circle cx="557.9" cy="376.3" r="1.0"/></g>
<path d="M587.7,323.8 L600.0,325.0 L611.1,326.7 L620.4,329.0 L634.8,332.7 L644.7,337.4 L650.5,343.0 L655.8,348.2 L657.6,354.0 L655.8,358.7 L650.5,362.8 L643.5,365.7 L636.0,368.6 L633.0,370.9 L631.9,373.3 L633.0,377.4 L631.3,381.5 L629.5,384.4 L628.4,386.7 L624.0,392.0" fill="none" stroke="#f4845a" stroke-width="0.8" stroke-opacity="0.5" stroke-linejoin="round"/>
<g fill="#f4845a" fill-opacity="0.75"><circle cx="587.7" cy="323.8" r="1.0"/><circle cx="593.9" cy="324.4" r="1.0"/><circle cx="600.0" cy="325.0" r="1.0"/><circle cx="605.5" cy="325.9" r="1.0"/><circle cx="611.1" cy="326.7" r="1.0"/><circle cx="620.4" cy="329.0" r="1.0"/><circle cx="627.6" cy="330.9" r="1.0"/><circle cx="634.8" cy="332.7" r="1.0"/><circle cx="639.8" cy="335.0" r="1.0"/><circle cx="644.7" cy="337.4" r="1.0"/><circle cx="650.5" cy="343.0" r="1.0"/><circle cx="655.8" cy="348.2" r="1.0"/><circle cx="657.6" cy="354.0" r="1.0"/><circle cx="655.8" cy="358.7" r="1.0"/><circle cx="650.5" cy="362.8" r="1.0"/><circle cx="643.5" cy="365.7" r="1.0"/><circle cx="636.0" cy="368.6" r="1.0"/><circle cx="633.0" cy="370.9" r="1.0"/><circle cx="631.9" cy="373.3" r="1.0"/><circle cx="633.0" cy="377.4" r="1.0"/><circle cx="631.3" cy="381.5" r="1.0"/><circle cx="629.5" cy="384.4" r="1.0"/><circle cx="628.4" cy="386.7" r="1.0"/><circle cx="624.0" cy="392.0" r="1.0"/></g>
<path d="M497.8,323.6 L502.1,324.1 L506.5,325.0 L510.9,325.4 L515.3,326.3 L518.8,327.1 L519.7,328.5 L517.0,329.8 L512.6,330.6 L508.3,331.1 L504.8,332.4 L505.6,334.2 L510.9,335.0 L515.3,335.9 L519.7,337.2 L522.3,338.5 L522.9,339.8 L524.6,342.7 L525.2,345.6 L528.7,348.0 L533.4,349.1 L538.1,349.7 L542.7,351.5 L546.2,353.8 L543.9,356.1 L538.1,357.3 L532.2,358.2 L528.7,359.9 L531.0,361.1 L536.9,362.3 L543.9,364.6 L549.7,365.2 L555.6,366.4 L562.0,367.5" fill="none" stroke="#c03030" stroke-width="0.8" stroke-opacity="0.5" stroke-linejoin="round"/>
<g fill="#c03030" fill-opacity="0.75"><circle cx="497.8" cy="323.6" r="1.0"/><circle cx="500.0" cy="323.9" r="1.0"/><circle cx="502.1" cy="324.1" r="1.0"/><circle cx="504.3" cy="324.6" r="1.0"/><circle cx="506.5" cy="325.0" r="1.0"/><circle cx="508.7" cy="325.2" r="1.0"/><circle cx="510.9" cy="325.4" r="1.0"/><circle cx="513.1" cy="325.9" r="1.0"/><circle cx="515.3" cy="326.3" r="1.0"/><circle cx="518.8" cy="327.1" r="1.0"/><circle cx="519.7" cy="328.5" r="1.0"/><circle cx="517.0" cy="329.8" r="1.0"/><circle cx="514.8" cy="330.2" r="1.0"/><circle cx="512.6" cy="330.6" r="1.0"/><circle cx="510.5" cy="330.9" r="1.0"/><circle cx="508.3" cy="331.1" r="1.0"/><circle cx="504.8" cy="332.4" r="1.0"/><circle cx="505.6" cy="334.2" r="1.0"/><circle cx="508.2" cy="334.6" r="1.0"/><circle cx="510.9" cy="335.0" r="1.0"/><circle cx="513.1" cy="335.4" r="1.0"/><circle cx="515.3" cy="335.9" r="1.0"/><circle cx="517.5" cy="336.5" r="1.0"/><circle cx="519.7" cy="337.2" r="1.0"/><circle cx="522.3" cy="338.5" r="1.0"/><circle cx="522.9" cy="339.8" r="1.0"/><circle cx="524.6" cy="342.7" r="1.0"/><circle cx="525.2" cy="345.6" r="1.0"/><circle cx="527.0" cy="346.8" r="1.0"/><circle cx="528.7" cy="348.0" r="1.0"/><circle cx="531.0" cy="348.6" r="1.0"/><circle cx="533.4" cy="349.1" r="1.0"/><circle cx="535.8" cy="349.4" r="1.0"/><circle cx="538.1" cy="349.7" r="1.0"/><circle cx="540.4" cy="350.6" r="1.0"/><circle cx="542.7" cy="351.5" r="1.0"/><circle cx="546.2" cy="353.8" r="1.0"/><circle cx="543.9" cy="356.1" r="1.0"/><circle cx="541.0" cy="356.7" r="1.0"/><circle cx="538.1" cy="357.3" r="1.0"/><circle cx="535.2" cy="357.8" r="1.0"/><circle cx="532.2" cy="358.2" r="1.0"/><circle cx="528.7" cy="359.9" r="1.0"/><circle cx="531.0" cy="361.1" r="1.0"/><circle cx="534.0" cy="361.7" r="1.0"/><circle cx="536.9" cy="362.3" r="1.0"/><circle cx="539.2" cy="363.1" r="1.0"/><circle cx="541.6" cy="363.8" r="1.0"/><circle cx="543.9" cy="364.6" r="1.0"/><circle cx="546.8" cy="364.9" r="1.0"/><circle cx="549.7" cy="365.2" r="1.0"/><circle cx="552.7" cy="365.8" r="1.0"/><circle cx="555.6" cy="366.4" r="1.0"/><circle cx="558.8" cy="366.9" r="1.0"/><circle cx="562.0" cy="367.5" r="1.0"/></g>
<path d="M536.9,371.0 L542.7,372.8 L548.6,373.9 L554.4,375.1 L562.0,376.5" fill="none" stroke="#c03030" stroke-width="0.8" stroke-opacity="0.5" stroke-linejoin="round"/>
<g fill="#c03030" fill-opacity="0.75"><circle cx="536.9" cy="371.0" r="1.0"/><circle cx="539.8" cy="371.9" r="1.0"/><circle cx="542.7" cy="372.8" r="1.0"/><circle cx="545.7" cy="373.4" r="1.0"/><circle cx="548.6" cy="373.9" r="1.0"/><circle cx="551.5" cy="374.5" r="1.0"/><circle cx="554.4" cy="375.1" r="1.0"/><circle cx="556.9" cy="375.6" r="1.0"/><circle cx="559.5" cy="376.0" r="1.0"/><circle cx="562.0" cy="376.5" r="1.0"/></g>
<path d="M542.7,383.9 L548.6,382.7 L554.4,381.0 L562.0,379.8" fill="none" stroke="#c03030" stroke-width="0.8" stroke-opacity="0.5" stroke-linejoin="round"/>
<g fill="#c03030" fill-opacity="0.75"><circle cx="542.7" cy="383.9" r="1.0"/><circle cx="545.7" cy="383.3" r="1.0"/><circle cx="548.6" cy="382.7" r="1.0"/><circle cx="551.5" cy="381.9" r="1.0"/><circle cx="554.4" cy="381.0" r="1.0"/><circle cx="556.9" cy="380.6" r="1.0"/><circle cx="559.5" cy="380.2" r="1.0"/><circle cx="562.0" cy="379.8" r="1.0"/></g>
<path d="M560.0,386.0 L575.0,388.5 L590.0,389.5 L605.0,392.0 L612.0,393.5" fill="none" stroke="#c03030" stroke-width="0.8" stroke-opacity="0.5" stroke-linejoin="round"/>
<g fill="#c03030" fill-opacity="0.75"><circle cx="560.0" cy="386.0" r="1.0"/><circle cx="563.0" cy="386.5" r="1.0"/><circle cx="566.0" cy="387.0" r="1.0"/><circle cx="569.0" cy="387.5" r="1.0"/><circle cx="572.0" cy="388.0" r="1.0"/><circle cx="575.0" cy="388.5" r="1.0"/><circle cx="578.0" cy="388.7" r="1.0"/><circle cx="581.0" cy="388.9" r="1.0"/><circle cx="584.0" cy="389.1" r="1.0"/><circle cx="587.0" cy="389.3" r="1.0"/><circle cx="590.0" cy="389.5" r="1.0"/><circle cx="593.0" cy="390.0" r="1.0"/><circle cx="596.0" cy="390.5" r="1.0"/><circle cx="599.0" cy="391.0" r="1.0"/><circle cx="602.0" cy="391.5" r="1.0"/><circle cx="605.0" cy="392.0" r="1.0"/><circle cx="607.3" cy="392.5" r="1.0"/><circle cx="609.7" cy="393.0" r="1.0"/><circle cx="612.0" cy="393.5" r="1.0"/></g>
<path d="M612.2,327.0 L620.4,328.8 L628.4,330.6 L644.7,336.2 L658.7,342.3 L667.5,349.3 L671.6,356.4 L671.0,362.2 L664.6,368.6 L652.9,373.9 L640.0,378.5 L631.9,383.2 L628.4,387.3 L624.0,392.0" fill="none" stroke="#c03030" stroke-width="0.8" stroke-opacity="0.45" stroke-linejoin="round"/>
<g fill="#c03030" fill-opacity="0.7"><circle cx="612.2" cy="327.0" r="1.0"/><circle cx="620.4" cy="328.8" r="1.0"/><circle cx="628.4" cy="330.6" r="1.0"/><circle cx="636.5" cy="333.4" r="1.0"/><circle cx="644.7" cy="336.2" r="1.0"/><circle cx="651.7" cy="339.2" r="1.0"/><circle cx="658.7" cy="342.3" r="1.0"/><circle cx="667.5" cy="349.3" r="1.0"/><circle cx="671.6" cy="356.4" r="1.0"/><circle cx="671.0" cy="362.2" r="1.0"/><circle cx="664.6" cy="368.6" r="1.0"/><circle cx="658.8" cy="371.2" r="1.0"/><circle cx="652.9" cy="373.9" r="1.0"/><circle cx="646.5" cy="376.2" r="1.0"/><circle cx="640.0" cy="378.5" r="1.0"/><circle cx="631.9" cy="383.2" r="1.0"/><circle cx="628.4" cy="387.3" r="1.0"/><circle cx="624.0" cy="392.0" r="1.0"/></g>
<path d="M493.7,301.5 L497.2,299.2 L500.7,298.3 L503.6,298.0 L504.8,301.0 L506.5,304.5 L510.0,305.0 L517.0,305.4 L524.0,305.2 L532.0,305.4 L540.0,305.6 L548.0,305.2 L555.0,304.5 L562.0,305.1 L570.2,305.9 L579.5,307.1 L586.5,308.0 L594.7,310.6 L604.1,309.8 L607.6,308.6 L611.1,313.9 L612.0,314.6 L615.7,319.7 L619.2,322.0 L622.2,326.7 L622.5,328.0 L620.2,332.7 L622.5,336.2 L626.0,340.3 L630.1,343.2 L633.6,345.3 L640.0,351.7 L642.4,355.2 L643.0,361.0 L643.0,366.9 L643.5,372.1 L644.1,378.5 L644.1,383.8 L645.3,390.2 L642.4,393.1 L637.7,396.0 L631.9,396.6 L626.0,396.6 L619.0,395.4 L612.0,393.7 L605.0,391.4 L597.0,390.0 L587.7,390.6 L578.4,390.0 L569.0,388.9 L562.0,387.5 L555.0,386.5 L546.2,383.3 L540.4,381.5 L536.9,379.8" fill="none" stroke="#2a2ab0" stroke-width="0.8" stroke-opacity="0.5" stroke-linejoin="round"/>
<g fill="#2a2ab0" fill-opacity="0.9"><circle cx="493.7" cy="301.5" r="1.1"/><circle cx="497.2" cy="299.2" r="1.1"/><circle cx="500.7" cy="298.3" r="1.1"/><circle cx="503.6" cy="298.0" r="1.1"/><circle cx="504.8" cy="301.0" r="1.1"/><circle cx="506.5" cy="304.5" r="1.1"/><circle cx="510.0" cy="305.0" r="1.1"/><circle cx="513.5" cy="305.2" r="1.1"/><circle cx="517.0" cy="305.4" r="1.1"/><circle cx="520.5" cy="305.3" r="1.1"/><circle cx="524.0" cy="305.2" r="1.1"/><circle cx="528.0" cy="305.3" r="1.1"/><circle cx="532.0" cy="305.4" r="1.1"/><circle cx="536.0" cy="305.5" r="1.1"/><circle cx="540.0" cy="305.6" r="1.1"/><circle cx="544.0" cy="305.4" r="1.1"/><circle cx="548.0" cy="305.2" r="1.1"/><circle cx="551.5" cy="304.9" r="1.1"/><circle cx="555.0" cy="304.5" r="1.1"/><circle cx="558.5" cy="304.8" r="1.1"/><circle cx="562.0" cy="305.1" r="1.1"/><circle cx="566.1" cy="305.5" r="1.1"/><circle cx="570.2" cy="305.9" r="1.1"/><circle cx="574.9" cy="306.5" r="1.1"/><circle cx="579.5" cy="307.1" r="1.1"/><circle cx="583.0" cy="307.6" r="1.1"/><circle cx="586.5" cy="308.0" r="1.1"/><circle cx="590.6" cy="309.3" r="1.1"/><circle cx="594.7" cy="310.6" r="1.1"/><circle cx="599.4" cy="310.2" r="1.1"/><circle cx="604.1" cy="309.8" r="1.1"/><circle cx="607.6" cy="308.6" r="1.1"/><circle cx="609.4" cy="311.2" r="1.1"/><circle cx="611.1" cy="313.9" r="1.1"/><circle cx="612.0" cy="314.6" r="1.1"/><circle cx="613.9" cy="317.1" r="1.1"/><circle cx="615.7" cy="319.7" r="1.1"/><circle cx="619.2" cy="322.0" r="1.1"/><circle cx="622.2" cy="326.7" r="1.1"/><circle cx="622.5" cy="328.0" r="1.1"/><circle cx="620.2" cy="332.7" r="1.1"/><circle cx="622.5" cy="336.2" r="1.1"/><circle cx="626.0" cy="340.3" r="1.1"/><circle cx="630.1" cy="343.2" r="1.1"/><circle cx="633.6" cy="345.3" r="1.1"/><circle cx="636.8" cy="348.5" r="1.1"/><circle cx="640.0" cy="351.7" r="1.1"/><circle cx="642.4" cy="355.2" r="1.1"/><circle cx="643.0" cy="361.0" r="1.1"/><circle cx="643.0" cy="366.9" r="1.1"/><circle cx="643.5" cy="372.1" r="1.1"/><circle cx="643.8" cy="375.3" r="1.1"/><circle cx="644.1" cy="378.5" r="1.1"/><circle cx="644.1" cy="383.8" r="1.1"/><circle cx="644.7" cy="387.0" r="1.1"/><circle cx="645.3" cy="390.2" r="1.1"/><circle cx="642.4" cy="393.1" r="1.1"/><circle cx="637.7" cy="396.0" r="1.1"/><circle cx="631.9" cy="396.6" r="1.1"/><circle cx="626.0" cy="396.6" r="1.1"/><circle cx="622.5" cy="396.0" r="1.1"/><circle cx="619.0" cy="395.4" r="1.1"/><circle cx="615.5" cy="394.5" r="1.1"/><circle cx="612.0" cy="393.7" r="1.1"/><circle cx="608.5" cy="392.5" r="1.1"/><circle cx="605.0" cy="391.4" r="1.1"/><circle cx="601.0" cy="390.7" r="1.1"/><circle cx="597.0" cy="390.0" r="1.1"/><circle cx="592.4" cy="390.3" r="1.1"/><circle cx="587.7" cy="390.6" r="1.1"/><circle cx="583.0" cy="390.3" r="1.1"/><circle cx="578.4" cy="390.0" r="1.1"/><circle cx="573.7" cy="389.4" r="1.1"/><circle cx="569.0" cy="388.9" r="1.1"/><circle cx="565.5" cy="388.2" r="1.1"/><circle cx="562.0" cy="387.5" r="1.1"/><circle cx="558.5" cy="387.0" r="1.1"/><circle cx="555.0" cy="386.5" r="1.1"/><circle cx="550.6" cy="384.9" r="1.1"/><circle cx="546.2" cy="383.3" r="1.1"/><circle cx="543.3" cy="382.4" r="1.1"/><circle cx="540.4" cy="381.5" r="1.1"/><circle cx="536.9" cy="379.8" r="1.1"/></g>
<path d="M493.7,301.5 L496.0,304.5 L498.9,305.6 L499.5,308.8 L503.9,309.6 L508.3,309.2 L512.6,308.3 L517.0,308.0 L522.9,307.4 L528.7,305.0" fill="none" stroke="#2a2ab0" stroke-width="0.8" stroke-opacity="0.5" stroke-linejoin="round"/>
<g fill="#2a2ab0" fill-opacity="0.9"><circle cx="493.7" cy="301.5" r="1.0"/><circle cx="496.0" cy="304.5" r="1.0"/><circle cx="498.9" cy="305.6" r="1.0"/><circle cx="499.5" cy="308.8" r="1.0"/><circle cx="503.9" cy="309.6" r="1.0"/><circle cx="508.3" cy="309.2" r="1.0"/><circle cx="512.6" cy="308.3" r="1.0"/><circle cx="517.0" cy="308.0" r="1.0"/><circle cx="520.0" cy="307.7" r="1.0"/><circle cx="522.9" cy="307.4" r="1.0"/><circle cx="525.8" cy="306.2" r="1.0"/><circle cx="528.7" cy="305.0" r="1.0"/></g>
<path d="M504.8,317.5 L508.3,316.6 L512.6,316.2 L517.0,316.6 L522.0,316.5 L528.7,315.3 L534.6,318.2 L540.4,319.3 L547.4,321.1 L554.4,321.7 L562.0,322.5" fill="none" stroke="#2a2ab0" stroke-width="0.8" stroke-opacity="0.5" stroke-linejoin="round"/>
<g fill="#2a2ab0" fill-opacity="0.9"><circle cx="504.8" cy="317.5" r="1.0"/><circle cx="508.3" cy="316.6" r="1.0"/><circle cx="512.6" cy="316.2" r="1.0"/><circle cx="517.0" cy="316.6" r="1.0"/><circle cx="519.5" cy="316.6" r="1.0"/><circle cx="522.0" cy="316.5" r="1.0"/><circle cx="525.4" cy="315.9" r="1.0"/><circle cx="528.7" cy="315.3" r="1.0"/><circle cx="531.7" cy="316.8" r="1.0"/><circle cx="534.6" cy="318.2" r="1.0"/><circle cx="537.5" cy="318.8" r="1.0"/><circle cx="540.4" cy="319.3" r="1.0"/><circle cx="543.9" cy="320.2" r="1.0"/><circle cx="547.4" cy="321.1" r="1.0"/><circle cx="550.9" cy="321.4" r="1.0"/><circle cx="554.4" cy="321.7" r="1.0"/><circle cx="558.2" cy="322.1" r="1.0"/><circle cx="562.0" cy="322.5" r="1.0"/></g>
<path d="M522.9,362.8 L524.0,365.2 L528.7,366.9 L534.6,367.5 L540.4,367.8 L546.2,368.1 L552.0,368.7 L556.7,369.3 L562.0,370.0" fill="none" stroke="#2a2ab0" stroke-width="0.8" stroke-opacity="0.5" stroke-linejoin="round"/>
<g fill="#2a2ab0" fill-opacity="0.9"><circle cx="522.9" cy="362.8" r="1.0"/><circle cx="524.0" cy="365.2" r="1.0"/><circle cx="526.4" cy="366.0" r="1.0"/><circle cx="528.7" cy="366.9" r="1.0"/><circle cx="531.7" cy="367.2" r="1.0"/><circle cx="534.6" cy="367.5" r="1.0"/><circle cx="537.5" cy="367.6" r="1.0"/><circle cx="540.4" cy="367.8" r="1.0"/><circle cx="543.3" cy="368.0" r="1.0"/><circle cx="546.2" cy="368.1" r="1.0"/><circle cx="549.1" cy="368.4" r="1.0"/><circle cx="552.0" cy="368.7" r="1.0"/><circle cx="556.7" cy="369.3" r="1.0"/><circle cx="559.4" cy="369.6" r="1.0"/><circle cx="562.0" cy="370.0" r="1.0"/></g>
<path d="M540.0,372.0 L547.4,372.2 L552.0,370.5 L558.0,372.0" fill="none" stroke="#2a2ab0" stroke-width="0.8" stroke-opacity="0.5" stroke-linejoin="round"/>
<g fill="#2a2ab0" fill-opacity="0.9"><circle cx="540.0" cy="372.0" r="1.0"/><circle cx="543.7" cy="372.1" r="1.0"/><circle cx="547.4" cy="372.2" r="1.0"/><circle cx="549.7" cy="371.4" r="1.0"/><circle cx="552.0" cy="370.5" r="1.0"/><circle cx="555.0" cy="371.2" r="1.0"/><circle cx="558.0" cy="372.0" r="1.0"/></g>
<g fill="#0d0a9e" stroke="#111" stroke-width="0.6"><circle cx="493.7" cy="279.9" r="3.1"/><circle cx="532.5" cy="306.2" r="3.1"/><circle cx="541.0" cy="308.5" r="3.1"/><circle cx="549.4" cy="304.8" r="3.1"/><circle cx="557.7" cy="299.3" r="3.1"/><circle cx="566.1" cy="306.0" r="3.1"/><circle cx="574.3" cy="305.7" r="3.1"/><circle cx="591.0" cy="308.6" r="3.1"/><circle cx="599.4" cy="309.2" r="3.1"/><circle cx="607.8" cy="317.6" r="3.1"/><circle cx="515.9" cy="319.1" r="3.1"/><circle cx="524.3" cy="319.3" r="3.1"/><circle cx="532.5" cy="324.6" r="3.1"/><circle cx="541.0" cy="333.4" r="3.1"/><circle cx="549.4" cy="328.9" r="3.1"/><circle cx="566.1" cy="332.3" r="3.1"/><circle cx="616.0" cy="335.8" r="3.1"/><circle cx="574.3" cy="362.6" r="3.1"/><circle cx="599.4" cy="371.4" r="3.1"/><circle cx="591.0" cy="380.1" r="3.1"/><circle cx="607.8" cy="378.6" r="3.1"/><circle cx="616.1" cy="388.4" r="3.1"/><circle cx="624.3" cy="401.3" r="3.1"/><circle cx="632.8" cy="398.4" r="3.1"/><circle cx="641.0" cy="408.9" r="3.1"/><circle cx="645.9" cy="406.5" r="3.1"/></g>
<g fill="#b42424" stroke="#111" stroke-width="0.6"><circle cx="498.7" cy="305.0" r="3.1"/><circle cx="515.9" cy="302.1" r="3.1"/><circle cx="515.9" cy="305.6" r="3.1"/><circle cx="524.3" cy="302.9" r="3.1"/><circle cx="532.5" cy="304.5" r="3.1"/><circle cx="549.4" cy="308.5" r="3.1"/><circle cx="557.7" cy="306.3" r="3.1"/><circle cx="566.1" cy="308.6" r="3.1"/><circle cx="574.3" cy="308.3" r="3.1"/><circle cx="582.7" cy="312.5" r="3.1"/><circle cx="591.0" cy="319.7" r="3.1"/><circle cx="599.4" cy="320.9" r="3.1"/><circle cx="532.5" cy="327.8" r="3.1"/><circle cx="616.0" cy="341.3" r="3.1"/><circle cx="557.6" cy="345.1" r="3.1"/><circle cx="566.1" cy="349.8" r="3.1"/><circle cx="549.4" cy="348.0" r="3.1"/><circle cx="557.7" cy="345.0" r="3.1"/><circle cx="574.3" cy="387.5" r="3.1"/><circle cx="582.7" cy="389.1" r="3.1"/><circle cx="591.0" cy="387.1" r="3.1"/><circle cx="599.4" cy="386.3" r="3.1"/><circle cx="607.8" cy="395.0" r="3.1"/><circle cx="616.1" cy="396.6" r="3.1"/><circle cx="607.6" cy="395.1" r="3.1"/><circle cx="624.3" cy="395.4" r="3.1"/><circle cx="624.3" cy="406.3" r="3.1"/><circle cx="632.8" cy="400.9" r="3.1"/><circle cx="632.8" cy="410.0" r="3.1"/><circle cx="641.0" cy="401.3" r="3.1"/><circle cx="641.0" cy="413.5" r="3.1"/><circle cx="649.4" cy="413.0" r="3.1"/><circle cx="658.1" cy="412.4" r="3.1"/><circle cx="658.1" cy="416.5" r="3.1"/><circle cx="666.3" cy="414.1" r="3.1"/><circle cx="672.7" cy="413.5" r="3.1"/></g>
<g fill="#f47f50" stroke="#111" stroke-width="0.6"><circle cx="490.4" cy="285.2" r="3.1"/><circle cx="515.9" cy="309.8" r="3.1"/><circle cx="524.3" cy="315.2" r="3.1"/><circle cx="532.5" cy="317.0" r="3.1"/><circle cx="541.0" cy="317.2" r="3.1"/><circle cx="549.4" cy="320.3" r="3.1"/><circle cx="557.7" cy="319.8" r="3.1"/><circle cx="566.1" cy="323.4" r="3.1"/><circle cx="574.3" cy="325.2" r="3.1"/><circle cx="582.7" cy="324.1" r="3.1"/><circle cx="591.0" cy="323.0" r="3.1"/><circle cx="599.4" cy="324.0" r="3.1"/><circle cx="607.8" cy="326.8" r="3.1"/><circle cx="515.9" cy="325.0" r="3.1"/><circle cx="524.3" cy="323.4" r="3.1"/><circle cx="541.0" cy="329.9" r="3.1"/><circle cx="557.7" cy="333.9" r="3.1"/><circle cx="532.5" cy="338.0" r="3.1"/><circle cx="549.4" cy="339.2" r="3.1"/><circle cx="557.6" cy="333.8" r="3.1"/><circle cx="566.1" cy="337.5" r="3.1"/><circle cx="616.0" cy="332.3" r="3.1"/><circle cx="574.3" cy="367.5" r="3.1"/><circle cx="582.7" cy="369.6" r="3.1"/><circle cx="599.4" cy="374.3" r="3.1"/><circle cx="591.0" cy="377.8" r="3.1"/><circle cx="607.8" cy="380.9" r="3.1"/><circle cx="616.1" cy="392.3" r="3.1"/><circle cx="624.3" cy="392.3" r="3.1"/><circle cx="624.3" cy="398.9" r="3.1"/><circle cx="632.8" cy="394.3" r="3.1"/><circle cx="632.8" cy="404.2" r="3.1"/><circle cx="641.0" cy="403.0" r="3.1"/><circle cx="649.4" cy="403.0" r="3.1"/><circle cx="649.4" cy="410.6" r="3.1"/><circle cx="658.1" cy="408.6" r="3.1"/></g>
<rect x="482.20" y="242.30" width="200.5" height="184.1" fill="none" stroke="#6a6a6a" stroke-width="1"/>
<line x1="482.20" y1="426.40" x2="482.20" y2="428.90" stroke="#6a6a6a" stroke-width="0.8"/>
<text x="477.22" y="435.90" font-size="7.83" fill="#262626" textLength="9.95" lengthAdjust="spacingAndGlyphs" stroke="#262626" stroke-width="0.15" stroke-opacity="0.7" >−4</text>
<line x1="515.62" y1="426.40" x2="515.62" y2="428.90" stroke="#6a6a6a" stroke-width="0.8"/>
<text x="510.64" y="435.90" font-size="7.83" fill="#262626" textLength="9.95" lengthAdjust="spacingAndGlyphs" stroke="#262626" stroke-width="0.15" stroke-opacity="0.7" >−3</text>
<line x1="549.03" y1="426.40" x2="549.03" y2="428.90" stroke="#6a6a6a" stroke-width="0.8"/>
<text x="544.06" y="435.90" font-size="7.83" fill="#262626" textLength="9.95" lengthAdjust="spacingAndGlyphs" stroke="#262626" stroke-width="0.15" stroke-opacity="0.7" >−2</text>
<line x1="582.45" y1="426.40" x2="582.45" y2="428.90" stroke="#6a6a6a" stroke-width="0.8"/>
<text x="577.47" y="435.90" font-size="7.83" fill="#262626" textLength="9.95" lengthAdjust="spacingAndGlyphs" stroke="#262626" stroke-width="0.15" stroke-opacity="0.7" >−1</text>
<line x1="615.87" y1="426.40" x2="615.87" y2="428.90" stroke="#6a6a6a" stroke-width="0.8"/>
<text x="613.72" y="435.90" font-size="7.83" fill="#262626" textLength="4.29" lengthAdjust="spacingAndGlyphs" stroke="#262626" stroke-width="0.15" stroke-opacity="0.7" >0</text>
<line x1="649.28" y1="426.40" x2="649.28" y2="428.90" stroke="#6a6a6a" stroke-width="0.8"/>
<text x="647.14" y="435.90" font-size="7.83" fill="#262626" textLength="4.29" lengthAdjust="spacingAndGlyphs" stroke="#262626" stroke-width="0.15" stroke-opacity="0.7" >1</text>
<line x1="682.70" y1="426.40" x2="682.70" y2="428.90" stroke="#6a6a6a" stroke-width="0.8"/>
<text x="680.55" y="435.90" font-size="7.83" fill="#262626" textLength="4.29" lengthAdjust="spacingAndGlyphs" stroke="#262626" stroke-width="0.15" stroke-opacity="0.7" >2</text>
<line x1="479.70" y1="417.19" x2="482.20" y2="417.19" stroke="#6a6a6a" stroke-width="0.8"/>
<line x1="479.70" y1="398.78" x2="482.20" y2="398.78" stroke="#6a6a6a" stroke-width="0.8"/>
<line x1="479.70" y1="380.38" x2="482.20" y2="380.38" stroke="#6a6a6a" stroke-width="0.8"/>
<line x1="479.70" y1="361.97" x2="482.20" y2="361.97" stroke="#6a6a6a" stroke-width="0.8"/>
<line x1="479.70" y1="343.56" x2="482.20" y2="343.56" stroke="#6a6a6a" stroke-width="0.8"/>
<line x1="479.70" y1="325.14" x2="482.20" y2="325.14" stroke="#6a6a6a" stroke-width="0.8"/>
<line x1="479.70" y1="306.74" x2="482.20" y2="306.74" stroke="#6a6a6a" stroke-width="0.8"/>
<line x1="479.70" y1="288.32" x2="482.20" y2="288.32" stroke="#6a6a6a" stroke-width="0.8"/>
<line x1="479.70" y1="269.92" x2="482.20" y2="269.92" stroke="#6a6a6a" stroke-width="0.8"/>
<line x1="479.70" y1="251.51" x2="482.20" y2="251.51" stroke="#6a6a6a" stroke-width="0.8"/>
<text x="516.61" y="444.90" font-size="7.83" fill="#262626" textLength="131.69" lengthAdjust="spacingAndGlyphs" stroke="#262626" stroke-width="0.15" stroke-opacity="0.7" >Deep ocean temperature anomaly [°C]</text>
<text x="482.50" y="236.60" font-size="9.16" fill="#1a1a1a" textLength="10.66" lengthAdjust="spacingAndGlyphs" font-weight="bold" >(f)</text>
<text x="499.30" y="236.60" font-size="9.16" fill="#1a1a1a" textLength="111.53" lengthAdjust="spacingAndGlyphs" stroke="#1a1a1a" stroke-width="0.15" stroke-opacity="0.7" >Run C: Full hysteresis cycles</text>
<rect x="485.40" y="391.20" width="59.2" height="31.8" rx="1.5" fill="#e6e7ef"/>
<circle cx="495.20" cy="397.10" r="3.1" fill="#f47f50" stroke="#111" stroke-width="0.6"/>
<text x="507.80" y="399.30" font-size="7.83" fill="#262626" textLength="25.27" lengthAdjust="spacingAndGlyphs" stroke="#262626" stroke-width="0.15" stroke-opacity="0.7" >MIS 6-5</text>
<circle cx="495.20" cy="407.10" r="3.1" fill="#b42424" stroke="#111" stroke-width="0.6"/>
<text x="507.80" y="409.30" font-size="7.83" fill="#262626" textLength="29.56" lengthAdjust="spacingAndGlyphs" stroke="#262626" stroke-width="0.15" stroke-opacity="0.7" >MIS 10-9</text>
<circle cx="495.20" cy="417.10" r="3.1" fill="#0d0a9e" stroke="#111" stroke-width="0.6"/>
<text x="507.80" y="419.30" font-size="7.83" fill="#262626" textLength="33.86" lengthAdjust="spacingAndGlyphs" stroke="#262626" stroke-width="0.15" stroke-opacity="0.7" >MIS 12-11</text>
<text transform="translate(6.20,102.40) rotate(-90)" x="-45.89" y="0" font-size="7.60" fill="#262626" textLength="91.77" lengthAdjust="spacingAndGlyphs" stroke="#262626" stroke-width="0.15" stroke-opacity="0.7" >Ice volume anomaly [mSLE]</text>
<rect x="24.4" y="454" width="119.4" height="22" rx="1.5" fill="#e9e9e9"/>
<line x1="27.9" y1="459.8" x2="60.3" y2="459.8" stroke="#555" stroke-width="0.9"/>
<circle cx="27.9" cy="459.8" r="1.1" fill="#555"/>
<circle cx="44.1" cy="459.8" r="1.1" fill="#555"/>
<circle cx="60.3" cy="459.8" r="1.1" fill="#555"/>
<circle cx="28.2" cy="469.8" r="3.2" fill="#f5a623" stroke="#111" stroke-width="0.6"/>
<circle cx="34.4" cy="469.8" r="3.2" fill="#f47f50" stroke="#111" stroke-width="0.6"/>
<circle cx="40.6" cy="469.8" r="3.2" fill="#7f0f8f" stroke="#111" stroke-width="0.6"/>
<circle cx="46.8" cy="469.8" r="3.2" fill="#b42424" stroke="#111" stroke-width="0.6"/>
<circle cx="53.0" cy="469.8" r="3.2" fill="#0d0a9e" stroke="#111" stroke-width="0.6"/>
<circle cx="59.2" cy="469.8" r="3.2" fill="#0000ff" stroke="#111" stroke-width="0.6"/>
<text x="66.90" y="462.20" font-size="7.83" fill="#262626" textLength="62.10" lengthAdjust="spacingAndGlyphs" stroke="#262626" stroke-width="0.15" stroke-opacity="0.7" >PISM transient run</text>
<text x="66.90" y="472.10" font-size="7.83" fill="#262626" textLength="73.44" lengthAdjust="spacingAndGlyphs" stroke="#262626" stroke-width="0.15" stroke-opacity="0.7" >PISM equilibrium runs</text>
</svg>
</body></html>
